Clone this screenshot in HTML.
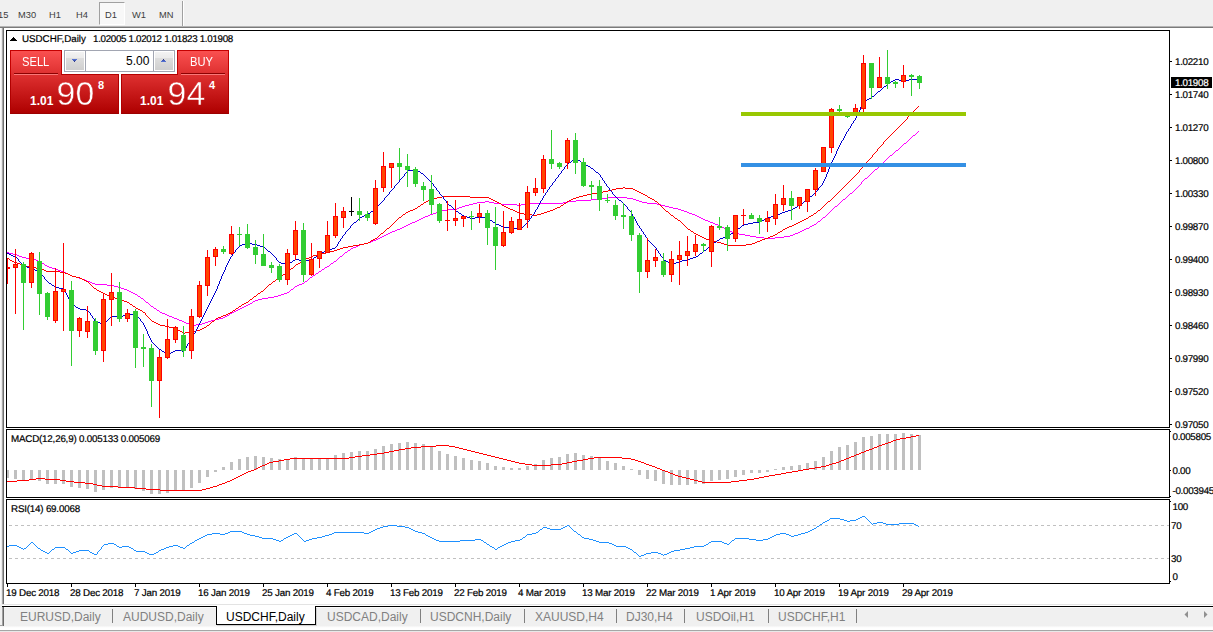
<!DOCTYPE html>
<html><head><meta charset="utf-8"><title>USDCHF,Daily</title>
<style>
html,body{margin:0;padding:0;overflow:hidden;}
body{width:1213px;height:632px;overflow:hidden;background:#f0f0f0;font-family:"Liberation Sans",sans-serif;position:relative;}
.t{position:absolute;white-space:nowrap;color:#000;}
.ax{font-size:9.8px;line-height:10px;letter-spacing:-0.3px;-webkit-text-stroke:0.2px #000;text-rendering:geometricPrecision;margin-top:1px;}
.dt{font-size:9.8px;line-height:10px;letter-spacing:-0.2px;-webkit-text-stroke:0.2px #000;text-rendering:geometricPrecision;margin-top:1px;}
.hd{font-size:9.8px;line-height:10px;letter-spacing:-0.2px;-webkit-text-stroke:0.2px #000;text-rendering:geometricPrecision;margin-top:1px;}
.tb{font-size:9.3px;line-height:10px;color:#3c3c3c;}
.tab{font-size:12px;line-height:14px;color:#808080;}
.tab.act{color:#000;}
.sep{position:absolute;top:609px;width:1px;height:14px;background:#808080;}
#white{position:absolute;left:4px;top:28px;width:1209px;height:577px;background:#fff;}
#chart{position:absolute;left:0;top:0;}
.rp{position:absolute;box-sizing:border-box;border:1px solid #b00000;}
.big{font-size:33px;line-height:33px;color:#fff;}
</style></head><body>
<!-- toolbar -->
<div style="position:absolute;left:0;top:26px;width:1213px;height:1px;background:#b4b4b4"></div>
<div style="position:absolute;left:0;top:27px;width:1213px;height:1px;background:#7a7a7a"></div>
<div style="position:absolute;left:99px;top:2px;width:24px;height:21px;background:#f8f8f8;border-left:1px solid #a0a0a0;border-top:1px solid #a0a0a0;border-right:1px solid #fff;border-bottom:1px solid #fff;"></div>
<div style="position:absolute;left:182px;top:1px;width:1px;height:25px;background:#a0a0a0"></div>
<div style="position:absolute;left:183px;top:1px;width:1px;height:25px;background:#fff"></div>
<span class="t tb" style="left:-2px;top:10px">15</span>
<span class="t tb" style="left:18px;top:10px">M30</span>
<span class="t tb" style="left:49px;top:10px">H1</span>
<span class="t tb" style="left:76px;top:10px">H4</span>
<span class="t tb" style="left:105px;top:10px">D1</span>
<span class="t tb" style="left:132px;top:10px">W1</span>
<span class="t tb" style="left:159px;top:10px">MN</span>
<!-- left edge -->
<div style="position:absolute;left:0px;top:28px;width:1px;height:576px;background:#fafafa"></div>
<div style="position:absolute;left:1px;top:28px;width:1px;height:576px;background:#ececec"></div>
<div style="position:absolute;left:2px;top:28px;width:1px;height:576px;background:#a8a8a8"></div>
<div style="position:absolute;left:3px;top:28px;width:1px;height:576px;background:#707070"></div>
<div id="white"></div>
<svg id="chart" width="1213" height="632" viewBox="0 0 1213 632" shape-rendering="crispEdges">
<defs><clipPath id="cpMain"><rect x="7" y="31" width="1162" height="396"/></clipPath>
<clipPath id="cpAll"><rect x="7" y="31" width="1162" height="552"/></clipPath></defs>
<g clip-path="url(#cpMain)">
<path d="M7 252h2v1h-2zM9 253h4v1h-4zM13 254h4v1h-4zM17 255h2v1h-2zM19 256h3v1h-3zM22 257h4v1h-4zM26 258h7v1h-7zM33 259h3v1h-3zM36 260h2v1h-2zM38 261h2v1h-2zM40 262h2v1h-2zM42 263h2v1h-2zM44 264h1v1h-1zM45 265h2v1h-2zM47 266h2v1h-2zM49 267h3v1h-3zM52 268h4v1h-4zM56 269h2v1h-2zM58 270h3v1h-3zM61 271h2v1h-2zM63 272h3v1h-3zM66 273h2v1h-2zM68 274h2v1h-2zM70 275h2v1h-2zM72 276h4v1h-4zM76 277h3v1h-3zM79 278h3v1h-3zM82 279h3v1h-3zM85 280h2v1h-2zM87 281h3v1h-3zM90 282h2v1h-2zM92 283h3v1h-3zM95 284h12v1h-12zM107 285h7v1h-7zM114 286h4v1h-4zM118 287h3v1h-3zM121 288h3v1h-3zM124 289h3v1h-3zM127 290h2v1h-2zM129 291h2v1h-2zM131 292h2v1h-2zM133 293h2v1h-2zM135 294h2v1h-2zM137 295h1v1h-1zM138 296h2v1h-2zM140 297h1v1h-1zM141 298h2v1h-2zM143 299h1v1h-1zM144 300h1v1h-1zM145 301h1v1h-1zM146 302h2v1h-2zM148 303h1v1h-1zM149 304h1v1h-1zM150 305h1v1h-1zM151 306h2v1h-2zM153 307h1v1h-1zM154 308h2v1h-2zM156 309h1v1h-1zM157 310h2v1h-2zM159 311h1v1h-1zM160 312h2v1h-2zM162 313h3v1h-3zM165 314h2v1h-2zM167 315h2v1h-2zM169 316h3v1h-3zM172 317h2v1h-2zM174 318h3v1h-3zM177 319h2v1h-2zM179 320h3v1h-3zM182 321h2v1h-2zM184 322h2v1h-2zM186 323h3v1h-3zM189 324h2v1h-2zM191 325h5v1h-5zM196 324h6v1h-6zM202 323h3v1h-3zM205 322h3v1h-3zM208 321h3v1h-3zM211 320h4v1h-4zM215 319h4v1h-4zM219 318h4v1h-4zM223 317h2v1h-2zM225 316h2v1h-2zM227 315h2v1h-2zM229 314h1v1h-1zM230 313h2v1h-2zM232 312h2v1h-2zM234 311h2v1h-2zM236 310h2v1h-2zM238 309h2v1h-2zM240 308h2v1h-2zM242 307h2v1h-2zM244 306h2v1h-2zM246 305h2v1h-2zM248 304h2v1h-2zM250 303h2v1h-2zM252 302h1v1h-1zM253 301h2v1h-2zM255 300h3v1h-3zM258 299h4v1h-4zM262 298h6v1h-6zM268 297h6v1h-6zM274 296h4v1h-4zM278 295h3v1h-3zM281 294h3v1h-3zM284 293h3v1h-3zM287 292h2v1h-2zM289 291h1v1h-1zM290 290h1v1h-1zM291 289h2v1h-2zM293 288h1v1h-1zM294 287h1v1h-1zM295 286h2v1h-2zM297 285h2v1h-2zM299 284h3v1h-3zM302 283h2v1h-2zM304 282h1v1h-1zM305 281h2v1h-2zM307 280h1v1h-1zM308 279h1v1h-1zM309 278h1v1h-1zM310 277h2v1h-2zM312 276h1v1h-1zM313 275h2v1h-2zM315 274h1v1h-1zM316 273h2v1h-2zM318 272h1v1h-1zM319 271h2v1h-2zM321 270h1v1h-1zM322 269h2v1h-2zM324 268h1v1h-1zM325 267h2v1h-2zM327 266h2v1h-2zM329 265h1v1h-1zM330 264h1v1h-1zM331 263h2v1h-2zM333 262h1v1h-1zM334 261h2v1h-2zM336 260h1v1h-1zM337 259h1v1h-1zM338 258h1v1h-1zM339 257h1v1h-1zM340 256h2v1h-2zM342 255h1v1h-1zM343 254h1v1h-1zM344 253h1v1h-1zM345 252h2v1h-2zM347 251h1v1h-1zM348 250h2v1h-2zM350 249h1v1h-1zM351 248h2v1h-2zM353 247h3v1h-3zM356 246h2v1h-2zM358 245h2v1h-2zM360 244h4v1h-4zM364 243h4v1h-4zM368 242h3v1h-3zM371 241h2v1h-2zM373 240h3v1h-3zM376 239h2v1h-2zM378 238h2v1h-2zM380 237h2v1h-2zM382 236h2v1h-2zM384 235h2v1h-2zM386 234h2v1h-2zM388 233h2v1h-2zM390 232h2v1h-2zM392 231h3v1h-3zM395 230h2v1h-2zM397 229h3v1h-3zM400 228h2v1h-2zM402 227h2v1h-2zM404 226h2v1h-2zM406 225h2v1h-2zM408 224h2v1h-2zM410 223h2v1h-2zM412 222h3v1h-3zM415 221h2v1h-2zM417 220h2v1h-2zM419 219h2v1h-2zM421 218h2v1h-2zM423 217h2v1h-2zM425 216h3v1h-3zM428 215h2v1h-2zM430 214h3v1h-3zM433 213h3v1h-3zM436 212h3v1h-3zM439 211h3v1h-3zM442 210h5v1h-5zM447 209h10v1h-10zM457 208h2v1h-2zM459 207h3v1h-3zM462 206h3v1h-3zM465 205h4v1h-4zM469 204h4v1h-4zM473 203h4v1h-4zM477 202h8v1h-8zM485 201h4v1h-4zM489 202h5v1h-5zM494 203h7v1h-7zM501 204h16v1h-16zM517 205h4v1h-4zM521 204h6v1h-6zM527 203h36v1h-36zM563 202h5v1h-5zM568 201h8v1h-8zM576 200h15v1h-15zM591 199h8v1h-8zM599 198h8v1h-8zM607 197h20v1h-20zM627 198h6v1h-6zM633 199h3v1h-3zM636 200h3v1h-3zM639 201h3v1h-3zM642 202h5v1h-5zM647 203h10v1h-10zM657 204h4v1h-4zM661 205h4v1h-4zM665 206h4v1h-4zM669 207h4v1h-4zM673 208h5v1h-5zM678 209h3v1h-3zM681 210h3v1h-3zM684 211h3v1h-3zM687 212h2v1h-2zM689 213h3v1h-3zM692 214h3v1h-3zM695 215h2v1h-2zM697 216h2v1h-2zM699 217h2v1h-2zM701 218h2v1h-2zM703 219h2v1h-2zM705 220h3v1h-3zM708 221h2v1h-2zM710 222h3v1h-3zM713 223h2v1h-2zM715 224h3v1h-3zM718 225h2v1h-2zM720 226h2v1h-2zM722 227h2v1h-2zM724 228h1v1h-1zM725 229h2v1h-2zM727 230h2v1h-2zM729 231h3v1h-3zM732 232h3v1h-3zM735 233h4v1h-4zM739 234h6v1h-6zM745 235h5v1h-5zM750 236h6v1h-6zM756 237h8v1h-8zM764 238h11v1h-11zM775 237h9v1h-9zM784 236h6v1h-6zM790 235h3v1h-3zM793 234h2v1h-2zM795 233h3v1h-3zM798 232h2v1h-2zM800 231h2v1h-2zM802 230h2v1h-2zM804 229h2v1h-2zM806 228h3v1h-3zM809 227h1v1h-1zM810 226h2v1h-2zM812 225h2v1h-2zM814 224h2v1h-2zM816 223h1v1h-1zM817 222h1v1h-1zM818 221h2v1h-2zM820 220h1v1h-1zM821 219h1v1h-1zM822 218h1v1h-1zM823 217h2v1h-2zM825 216h1v1h-1zM826 215h1v1h-1zM827 214h1v1h-1zM828 213h1v1h-1zM829 212h1v1h-1zM830 211h1v1h-1zM831 210h1v1h-1zM832 209h1v1h-1zM833 208h1v1h-1zM834 207h1v1h-1zM835 206h2v1h-2zM837 205h1v1h-1zM838 204h1v1h-1zM839 203h1v1h-1zM840 202h1v1h-1zM841 201h1v1h-1zM842 200h1v1h-1zM843 199h2v1h-2zM845 198h1v1h-1zM846 197h1v1h-1zM847 196h1v1h-1zM848 195h1v1h-1zM849 194h1v1h-1zM850 193h2v1h-2zM852 192h1v1h-1zM853 191h1v1h-1zM854 190h1v1h-1zM855 189h1v1h-1zM856 188h1v1h-1zM857 187h1v1h-1zM858 186h1v1h-1zM859 185h1v1h-1zM860 184h1v1h-1zM861 182h1v2h-1zM862 181h1v1h-1zM863 180h1v1h-1zM864 179h1v1h-1zM865 178h2v1h-2zM867 177h1v1h-1zM868 176h1v1h-1zM869 175h1v1h-1zM870 174h1v1h-1zM871 173h1v1h-1zM872 172h1v1h-1zM873 171h1v1h-1zM874 170h1v1h-1zM875 169h2v1h-2zM877 168h1v1h-1zM878 167h1v1h-1zM879 166h1v1h-1zM880 165h1v1h-1zM881 164h1v1h-1zM882 163h1v1h-1zM883 162h1v1h-1zM884 161h1v1h-1zM885 160h1v1h-1zM886 159h1v1h-1zM887 158h1v1h-1zM888 157h1v1h-1zM889 156h1v1h-1zM890 155h2v1h-2zM892 154h1v1h-1zM893 153h1v1h-1zM894 152h1v1h-1zM895 151h1v1h-1zM896 150h2v1h-2zM898 149h1v1h-1zM899 148h1v1h-1zM900 147h1v1h-1zM901 146h1v1h-1zM902 145h1v1h-1zM903 144h1v1h-1zM904 143h2v1h-2zM906 142h1v1h-1zM907 141h1v1h-1zM908 140h1v1h-1zM909 139h1v1h-1zM910 138h1v1h-1zM911 137h1v1h-1zM912 136h1v1h-1zM913 135h2v1h-2zM915 134h1v1h-1zM916 133h1v1h-1zM917 132h1v1h-1zM918 131h1v1h-1z" fill="#ff00ff"/>
<path d="M7 258h2v1h-2zM9 259h1v1h-1zM10 260h2v1h-2zM12 261h2v1h-2zM14 262h3v1h-3zM17 263h3v1h-3zM20 264h3v1h-3zM23 265h3v1h-3zM26 266h4v1h-4zM30 267h6v1h-6zM36 268h5v1h-5zM41 269h3v1h-3zM44 270h2v1h-2zM46 271h14v1h-14zM60 272h5v1h-5zM65 273h3v1h-3zM68 274h2v1h-2zM70 275h2v1h-2zM72 276h4v1h-4zM76 277h4v1h-4zM80 278h2v1h-2zM82 279h2v1h-2zM84 280h2v1h-2zM86 281h2v1h-2zM88 282h1v1h-1zM89 283h1v1h-1zM90 284h1v1h-1zM91 285h1v1h-1zM92 286h1v1h-1zM93 287h1v1h-1zM94 288h2v1h-2zM96 289h1v1h-1zM97 290h2v1h-2zM99 291h2v1h-2zM101 292h2v1h-2zM103 293h2v1h-2zM105 294h2v1h-2zM107 295h3v1h-3zM110 296h2v1h-2zM112 297h3v1h-3zM115 298h4v1h-4zM119 299h3v1h-3zM122 300h2v1h-2zM124 301h3v1h-3zM127 302h2v1h-2zM129 303h1v1h-1zM130 304h2v1h-2zM132 305h1v1h-1zM133 306h2v1h-2zM135 307h1v1h-1zM136 308h2v1h-2zM138 309h2v1h-2zM140 310h2v1h-2zM142 311h1v1h-1zM143 312h2v1h-2zM145 313h1v2h-1zM146 315h1v1h-1zM147 316h1v1h-1zM148 317h1v1h-1zM149 318h1v1h-1zM150 319h1v1h-1zM151 320h1v1h-1zM152 321h2v1h-2zM154 322h2v1h-2zM156 323h2v1h-2zM158 324h2v1h-2zM160 325h5v1h-5zM165 326h4v1h-4zM169 327h4v1h-4zM173 328h3v1h-3zM176 329h2v1h-2zM178 330h2v1h-2zM180 331h2v1h-2zM182 332h2v1h-2zM184 333h1v1h-1zM185 332h8v1h-8zM193 331h3v1h-3zM196 330h4v1h-4zM200 329h2v1h-2zM202 328h2v1h-2zM204 327h2v1h-2zM206 326h1v1h-1zM207 325h2v1h-2zM209 324h1v1h-1zM210 323h1v1h-1zM211 322h1v1h-1zM212 321h2v1h-2zM214 320h1v1h-1zM215 319h1v1h-1zM216 318h2v1h-2zM218 317h3v1h-3zM221 316h2v1h-2zM223 315h3v1h-3zM226 314h2v1h-2zM228 313h2v1h-2zM230 312h2v1h-2zM232 311h1v1h-1zM233 310h2v1h-2zM235 309h1v1h-1zM236 308h2v1h-2zM238 307h1v1h-1zM239 306h2v1h-2zM241 305h1v1h-1zM242 304h2v1h-2zM244 303h2v1h-2zM246 302h2v1h-2zM248 301h1v1h-1zM249 300h1v1h-1zM250 299h2v1h-2zM252 298h1v1h-1zM253 297h1v1h-1zM254 296h2v1h-2zM256 295h1v1h-1zM257 294h1v1h-1zM258 293h2v1h-2zM260 292h1v1h-1zM261 291h2v1h-2zM263 290h1v1h-1zM264 289h1v1h-1zM265 288h1v1h-1zM266 287h1v1h-1zM267 286h1v1h-1zM268 285h1v1h-1zM269 284h2v1h-2zM271 283h1v1h-1zM272 282h1v1h-1zM273 281h2v1h-2zM275 280h1v1h-1zM276 279h2v1h-2zM278 278h1v1h-1zM279 277h2v1h-2zM281 276h1v1h-1zM282 275h1v1h-1zM283 274h2v1h-2zM285 273h1v1h-1zM286 272h2v1h-2zM288 271h1v1h-1zM289 270h1v1h-1zM290 269h1v1h-1zM291 268h2v1h-2zM293 267h1v1h-1zM294 266h1v1h-1zM295 265h1v1h-1zM296 264h2v1h-2zM298 263h2v1h-2zM300 262h1v1h-1zM301 261h2v1h-2zM303 260h1v1h-1zM304 259h2v1h-2zM306 258h3v1h-3zM309 257h2v1h-2zM311 256h2v1h-2zM313 255h4v1h-4zM317 254h4v1h-4zM321 253h5v1h-5zM326 252h4v1h-4zM330 251h4v1h-4zM334 250h3v1h-3zM337 249h3v1h-3zM340 248h3v1h-3zM343 247h5v1h-5zM348 246h5v1h-5zM353 245h6v1h-6zM359 244h5v1h-5zM364 243h4v1h-4zM368 242h2v1h-2zM370 241h1v1h-1zM371 240h2v1h-2zM373 239h2v1h-2zM375 238h2v1h-2zM377 237h1v1h-1zM378 236h1v1h-1zM379 235h1v1h-1zM380 234h1v1h-1zM381 233h2v1h-2zM383 232h1v1h-1zM384 231h1v1h-1zM385 230h1v1h-1zM386 229h1v1h-1zM387 228h2v1h-2zM389 227h1v1h-1zM390 226h1v1h-1zM391 225h1v1h-1zM392 224h1v1h-1zM393 223h1v1h-1zM394 222h1v1h-1zM395 221h1v1h-1zM396 220h1v1h-1zM397 219h1v1h-1zM398 218h1v1h-1zM399 217h2v1h-2zM401 216h1v1h-1zM402 215h1v1h-1zM403 214h2v1h-2zM405 213h1v1h-1zM406 212h2v1h-2zM408 211h2v1h-2zM410 210h3v1h-3zM413 209h2v1h-2zM415 208h2v1h-2zM417 207h1v1h-1zM418 206h2v1h-2zM420 205h1v1h-1zM421 204h2v1h-2zM423 203h1v1h-1zM424 202h2v1h-2zM426 201h2v1h-2zM428 200h3v1h-3zM431 199h2v1h-2zM433 198h4v1h-4zM437 197h5v1h-5zM442 196h28v1h-28zM470 197h19v1h-19zM489 198h2v1h-2zM491 199h2v1h-2zM493 200h2v1h-2zM495 201h2v1h-2zM497 202h2v1h-2zM499 203h2v1h-2zM501 204h1v1h-1zM502 205h2v1h-2zM504 206h2v1h-2zM506 207h2v1h-2zM508 208h2v1h-2zM510 209h3v1h-3zM513 210h2v1h-2zM515 211h2v1h-2zM517 212h2v1h-2zM519 213h5v1h-5zM524 214h8v1h-8zM532 215h5v1h-5zM537 214h4v1h-4zM541 213h3v1h-3zM544 212h3v1h-3zM547 211h3v1h-3zM550 210h3v1h-3zM553 209h2v1h-2zM555 208h2v1h-2zM557 207h3v1h-3zM560 206h1v1h-1zM561 205h2v1h-2zM563 204h1v1h-1zM564 203h2v1h-2zM566 202h1v1h-1zM567 201h2v1h-2zM569 200h2v1h-2zM571 199h2v1h-2zM573 198h3v1h-3zM576 197h3v1h-3zM579 196h4v1h-4zM583 195h4v1h-4zM587 194h4v1h-4zM591 193h7v1h-7zM598 192h5v1h-5zM603 191h5v1h-5zM608 190h4v1h-4zM612 189h4v1h-4zM616 188h7v1h-7zM623 187h2v1h-2zM625 188h8v1h-8zM633 189h2v1h-2zM635 190h2v1h-2zM637 191h2v1h-2zM639 192h2v1h-2zM641 193h2v1h-2zM643 194h2v1h-2zM645 195h2v1h-2zM647 196h1v1h-1zM648 197h2v1h-2zM650 198h2v1h-2zM652 199h2v1h-2zM654 200h1v1h-1zM655 201h2v1h-2zM657 202h1v1h-1zM658 203h1v1h-1zM659 204h1v1h-1zM660 205h1v1h-1zM661 206h1v1h-1zM662 207h1v1h-1zM663 208h1v1h-1zM664 209h1v1h-1zM665 210h1v1h-1zM666 211h2v1h-2zM668 212h1v1h-1zM669 213h1v1h-1zM670 214h1v1h-1zM671 215h2v1h-2zM673 216h1v1h-1zM674 217h1v1h-1zM675 218h2v1h-2zM677 219h1v1h-1zM678 220h2v1h-2zM680 221h1v1h-1zM681 222h1v1h-1zM682 223h1v1h-1zM683 224h1v1h-1zM684 225h1v1h-1zM685 226h1v1h-1zM686 227h1v1h-1zM687 228h1v1h-1zM688 229h2v1h-2zM690 230h1v1h-1zM691 231h2v1h-2zM693 232h1v1h-1zM694 233h2v1h-2zM696 234h2v1h-2zM698 235h2v1h-2zM700 236h2v1h-2zM702 237h2v1h-2zM704 238h2v1h-2zM706 239h3v1h-3zM709 240h3v1h-3zM712 241h5v1h-5zM717 242h4v1h-4zM721 243h3v1h-3zM724 244h3v1h-3zM727 245h19v1h-19zM746 244h6v1h-6zM752 243h3v1h-3zM755 242h2v1h-2zM757 241h3v1h-3zM760 240h2v1h-2zM762 239h3v1h-3zM765 238h3v1h-3zM768 237h2v1h-2zM770 236h3v1h-3zM773 235h2v1h-2zM775 234h2v1h-2zM777 233h1v1h-1zM778 232h2v1h-2zM780 231h2v1h-2zM782 230h1v1h-1zM783 229h2v1h-2zM785 228h2v1h-2zM787 227h2v1h-2zM789 226h3v1h-3zM792 225h2v1h-2zM794 224h2v1h-2zM796 223h2v1h-2zM798 222h2v1h-2zM800 221h2v1h-2zM802 220h2v1h-2zM804 219h2v1h-2zM806 218h2v1h-2zM808 217h1v1h-1zM809 216h2v1h-2zM811 215h2v1h-2zM813 214h1v1h-1zM814 213h2v1h-2zM816 212h1v1h-1zM817 211h1v1h-1zM818 210h2v1h-2zM820 209h1v1h-1zM821 208h1v1h-1zM822 207h1v1h-1zM823 206h1v1h-1zM824 205h1v1h-1zM825 204h1v1h-1zM826 203h1v1h-1zM827 202h1v1h-1zM828 201h2v1h-2zM830 200h1v1h-1zM831 199h1v1h-1zM832 198h1v1h-1zM833 197h1v1h-1zM834 196h1v1h-1zM835 195h1v1h-1zM836 194h1v1h-1zM837 193h1v1h-1zM838 192h1v1h-1zM839 191h1v1h-1zM840 190h1v1h-1zM841 189h1v1h-1zM842 188h1v1h-1zM843 187h1v1h-1zM844 186h1v1h-1zM845 185h1v1h-1zM846 184h1v1h-1zM847 183h1v1h-1zM848 182h1v1h-1zM849 181h1v1h-1zM850 180h1v1h-1zM851 179h1v1h-1zM852 178h1v1h-1zM853 177h1v1h-1zM854 176h1v1h-1zM855 175h1v1h-1zM856 174h1v1h-1zM857 173h1v1h-1zM858 172h1v1h-1zM859 170h1v2h-1zM860 169h1v1h-1zM861 168h1v1h-1zM862 167h1v1h-1zM863 165h1v2h-1zM864 164h1v1h-1zM865 163h1v1h-1zM866 162h1v1h-1zM867 161h1v1h-1zM868 160h1v1h-1zM869 159h1v1h-1zM870 158h1v1h-1zM871 157h1v1h-1zM872 155h1v2h-1zM873 154h1v1h-1zM874 153h1v1h-1zM875 152h1v1h-1zM876 151h1v1h-1zM877 149h1v2h-1zM878 148h1v1h-1zM879 147h1v1h-1zM880 146h1v1h-1zM881 145h1v1h-1zM882 144h1v1h-1zM883 142h1v2h-1zM884 141h1v1h-1zM885 140h1v1h-1zM886 139h1v1h-1zM887 138h1v1h-1zM888 137h1v1h-1zM889 136h1v1h-1zM890 135h1v1h-1zM891 134h1v1h-1zM892 133h1v1h-1zM893 132h1v1h-1zM894 131h1v1h-1zM895 130h1v1h-1zM896 129h1v1h-1zM897 128h1v1h-1zM898 127h1v1h-1zM899 126h1v1h-1zM900 125h1v1h-1zM901 124h1v1h-1zM902 123h1v1h-1zM903 122h1v1h-1zM904 121h1v1h-1zM905 120h1v1h-1zM906 119h1v1h-1zM907 117h1v2h-1zM908 116h1v1h-1zM909 115h1v1h-1zM910 114h1v1h-1zM911 113h1v1h-1zM912 112h1v1h-1zM913 111h1v1h-1zM914 110h1v1h-1zM915 109h1v1h-1zM916 108h1v1h-1zM917 107h1v1h-1zM918 106h1v1h-1z" fill="#ff0000"/>
<path d="M7 253h2v1h-2zM9 254h2v1h-2zM11 255h2v1h-2zM13 256h2v1h-2zM15 257h2v1h-2zM17 258h1v1h-1zM18 259h1v2h-1zM19 261h1v1h-1zM20 262h1v1h-1zM21 263h1v1h-1zM22 264h1v1h-1zM23 265h2v1h-2zM25 266h2v1h-2zM27 267h3v1h-3zM30 268h3v1h-3zM33 269h2v1h-2zM35 270h2v1h-2zM37 271h2v1h-2zM39 272h1v1h-1zM40 272h1v2h-1zM41 274h1v1h-1zM42 275h1v1h-1zM43 276h1v1h-1zM44 277h1v2h-1zM45 279h1v1h-1zM46 280h1v1h-1zM47 281h1v1h-1zM48 282h1v1h-1zM49 283h2v1h-2zM51 284h1v1h-1zM52 285h2v1h-2zM54 286h1v1h-1zM55 287h4v1h-4zM59 288h5v1h-5zM64 289h1v2h-1zM65 291h1v2h-1zM66 293h1v2h-1zM67 295h1v2h-1zM68 297h1v2h-1zM69 299h1v2h-1zM70 301h1v2h-1zM71 303h1v1h-1zM72 304h1v1h-1zM73 305h2v1h-2zM75 306h1v1h-1zM76 307h2v1h-2zM78 308h2v1h-2zM80 309h6v1h-6zM86 310h2v1h-2zM88 311h1v1h-1zM89 312h1v1h-1zM90 313h1v2h-1zM91 315h1v1h-1zM92 316h1v2h-1zM93 318h1v1h-1zM94 319h1v2h-1zM95 321h1v1h-1zM96 322h4v1h-4zM100 323h5v1h-5zM105 322h1v1h-1zM106 321h1v1h-1zM107 320h1v1h-1zM108 319h1v1h-1zM109 318h1v1h-1zM110 317h1v1h-1zM111 316h12v1h-12zM123 315h5v1h-5zM128 314h8v1h-8zM136 314h1v2h-1zM137 316h1v1h-1zM138 317h1v1h-1zM139 318h1v1h-1zM140 319h1v2h-1zM141 321h1v1h-1zM142 322h1v1h-1zM143 323h1v2h-1zM144 325h1v2h-1zM145 327h1v2h-1zM146 329h1v2h-1zM147 331h1v3h-1zM148 334h1v2h-1zM149 336h1v2h-1zM150 338h1v2h-1zM151 340h1v2h-1zM152 342h1v1h-1zM153 343h1v1h-1zM154 344h1v1h-1zM155 345h1v1h-1zM156 346h1v1h-1zM157 347h1v1h-1zM158 348h1v1h-1zM159 349h2v1h-2zM161 350h1v1h-1zM162 351h2v1h-2zM164 352h1v1h-1zM165 353h2v1h-2zM167 354h2v1h-2zM169 353h2v1h-2zM171 352h2v1h-2zM173 351h2v1h-2zM175 350h7v1h-7zM182 351h2v1h-2zM184 349h1v2h-1zM185 348h1v1h-1zM186 346h1v2h-1zM187 344h1v2h-1zM188 343h1v1h-1zM189 341h1v2h-1zM190 340h1v1h-1zM191 338h1v2h-1zM192 336h1v2h-1zM193 334h1v2h-1zM194 333h1v1h-1zM195 331h1v2h-1zM196 329h1v2h-1zM197 327h1v2h-1zM198 325h1v2h-1zM199 323h1v2h-1zM200 321h1v2h-1zM201 319h1v2h-1zM202 317h1v2h-1zM203 315h1v2h-1zM204 313h1v2h-1zM205 311h1v2h-1zM206 309h1v2h-1zM207 307h1v2h-1zM208 305h1v2h-1zM209 303h1v2h-1zM210 301h1v2h-1zM211 299h1v2h-1zM212 297h1v2h-1zM213 295h1v2h-1zM214 293h1v2h-1zM215 291h1v2h-1zM216 289h1v2h-1zM217 286h1v3h-1zM218 284h1v2h-1zM219 281h1v3h-1zM220 279h1v2h-1zM221 276h1v3h-1zM222 274h1v2h-1zM223 272h1v2h-1zM224 270h1v2h-1zM225 267h1v3h-1zM226 265h1v2h-1zM227 263h1v2h-1zM228 261h1v2h-1zM229 259h1v2h-1zM230 257h1v2h-1zM231 256h1v1h-1zM232 254h1v2h-1zM233 253h1v1h-1zM234 252h1v1h-1zM235 250h1v2h-1zM236 249h1v1h-1zM237 248h1v1h-1zM238 247h1v1h-1zM239 246h1v1h-1zM240 245h2v1h-2zM242 244h4v1h-4zM246 243h6v1h-6zM252 244h5v1h-5zM257 245h3v1h-3zM260 246h3v1h-3zM263 247h2v1h-2zM265 248h1v1h-1zM266 249h1v1h-1zM267 250h1v1h-1zM268 251h2v1h-2zM270 252h1v1h-1zM271 253h1v1h-1zM272 254h1v1h-1zM273 255h1v1h-1zM274 256h1v1h-1zM275 257h1v1h-1zM276 258h1v2h-1zM277 260h1v1h-1zM278 261h1v1h-1zM279 262h2v1h-2zM281 263h6v1h-6zM287 264h1v1h-1zM288 263h2v1h-2zM290 262h2v1h-2zM292 261h1v1h-1zM293 260h2v1h-2zM295 259h4v1h-4zM299 260h5v1h-5zM304 261h1v1h-1zM305 260h5v1h-5zM310 259h3v1h-3zM313 258h1v1h-1zM314 257h2v1h-2zM316 256h1v1h-1zM317 255h1v1h-1zM318 254h2v1h-2zM320 253h2v1h-2zM322 252h2v1h-2zM324 251h2v1h-2zM326 250h3v1h-3zM329 249h3v1h-3zM332 248h3v1h-3zM335 247h1v1h-1zM336 246h1v1h-1zM337 244h1v2h-1zM338 242h1v2h-1zM339 241h1v1h-1zM340 239h1v2h-1zM341 238h1v1h-1zM342 236h1v2h-1zM343 235h1v1h-1zM344 234h1v1h-1zM345 232h1v2h-1zM346 231h1v1h-1zM347 230h1v1h-1zM348 229h1v1h-1zM349 228h1v1h-1zM350 226h1v2h-1zM351 225h1v1h-1zM352 224h1v1h-1zM353 223h1v1h-1zM354 222h2v1h-2zM356 221h1v1h-1zM357 220h1v1h-1zM358 219h1v1h-1zM359 218h1v1h-1zM360 217h2v1h-2zM362 216h2v1h-2zM364 215h2v1h-2zM366 214h2v1h-2zM368 213h2v1h-2zM370 212h1v1h-1zM371 211h2v1h-2zM373 210h1v1h-1zM374 209h2v1h-2zM376 208h1v1h-1zM377 206h1v2h-1zM378 205h1v1h-1zM379 204h1v1h-1zM380 203h1v1h-1zM381 202h1v1h-1zM382 201h1v1h-1zM383 200h1v1h-1zM384 198h1v2h-1zM385 197h1v1h-1zM386 196h1v1h-1zM387 195h1v1h-1zM388 194h1v1h-1zM389 192h1v2h-1zM390 191h1v1h-1zM391 190h1v1h-1zM392 189h1v1h-1zM393 188h1v1h-1zM394 186h1v2h-1zM395 185h1v1h-1zM396 184h1v1h-1zM397 183h1v1h-1zM398 182h1v1h-1zM399 180h1v2h-1zM400 179h1v1h-1zM401 178h1v1h-1zM402 177h1v1h-1zM403 176h1v1h-1zM404 174h1v2h-1zM405 173h1v1h-1zM406 172h1v1h-1zM407 171h1v1h-1zM408 170h7v1h-7zM415 169h1v1h-1zM416 170h2v1h-2zM418 171h2v1h-2zM420 172h1v1h-1zM421 173h2v1h-2zM423 174h1v1h-1zM424 175h1v1h-1zM425 176h1v1h-1zM426 177h1v1h-1zM427 178h1v1h-1zM428 179h1v1h-1zM429 180h1v1h-1zM430 181h1v1h-1zM431 182h1v1h-1zM432 183h1v1h-1zM433 184h1v2h-1zM434 186h1v1h-1zM435 187h1v1h-1zM436 188h1v2h-1zM437 190h1v1h-1zM438 191h1v1h-1zM439 192h1v2h-1zM440 194h1v1h-1zM441 195h1v1h-1zM442 196h1v1h-1zM443 197h1v2h-1zM444 199h1v1h-1zM445 200h1v1h-1zM446 201h1v2h-1zM447 203h1v1h-1zM448 204h1v1h-1zM449 205h2v1h-2zM451 206h1v1h-1zM452 207h1v1h-1zM453 208h1v1h-1zM454 209h1v1h-1zM455 210h1v1h-1zM456 211h2v1h-2zM458 212h1v1h-1zM459 213h2v1h-2zM461 214h1v1h-1zM462 215h2v1h-2zM464 216h3v1h-3zM467 217h3v1h-3zM470 218h5v1h-5zM475 217h10v1h-10zM485 218h4v1h-4zM489 219h1v1h-1zM490 220h2v1h-2zM492 221h1v1h-1zM493 222h2v1h-2zM495 223h1v1h-1zM496 224h3v1h-3zM499 225h2v1h-2zM501 226h3v1h-3zM504 227h7v1h-7zM511 228h7v1h-7zM518 229h2v1h-2zM520 228h1v1h-1zM521 227h2v1h-2zM523 226h1v1h-1zM524 225h1v1h-1zM525 224h1v1h-1zM526 223h1v1h-1zM527 222h1v1h-1zM528 221h1v1h-1zM529 219h1v2h-1zM530 218h1v1h-1zM531 216h1v2h-1zM532 215h1v1h-1zM533 214h1v1h-1zM534 212h1v2h-1zM535 210h1v2h-1zM536 209h1v1h-1zM537 207h1v2h-1zM538 205h1v2h-1zM539 203h1v2h-1zM540 201h1v2h-1zM541 200h1v1h-1zM542 198h1v2h-1zM543 196h1v2h-1zM544 195h1v1h-1zM545 193h1v2h-1zM546 192h1v1h-1zM547 190h1v2h-1zM548 189h1v1h-1zM549 187h1v2h-1zM550 186h1v1h-1zM551 185h1v1h-1zM552 183h1v2h-1zM553 182h1v1h-1zM554 181h1v1h-1zM555 179h1v2h-1zM556 178h1v1h-1zM557 177h1v1h-1zM558 175h1v2h-1zM559 174h1v1h-1zM560 173h1v1h-1zM561 171h1v2h-1zM562 170h1v1h-1zM563 169h1v1h-1zM564 167h1v2h-1zM565 166h1v1h-1zM566 165h1v1h-1zM567 164h1v1h-1zM568 163h1v1h-1zM569 162h2v1h-2zM571 161h1v1h-1zM572 160h2v1h-2zM574 159h1v1h-1zM575 158h2v1h-2zM577 159h1v1h-1zM578 160h2v1h-2zM580 161h1v1h-1zM581 162h2v1h-2zM583 163h2v1h-2zM585 164h1v1h-1zM586 165h2v1h-2zM588 166h2v1h-2zM590 167h1v1h-1zM591 168h2v1h-2zM593 169h1v1h-1zM594 170h1v1h-1zM595 171h1v1h-1zM596 172h2v1h-2zM598 173h1v1h-1zM599 174h1v1h-1zM600 175h1v2h-1zM601 177h1v1h-1zM602 178h1v2h-1zM603 180h1v1h-1zM604 181h1v2h-1zM605 183h1v1h-1zM606 184h1v2h-1zM607 186h1v1h-1zM608 187h1v1h-1zM609 188h1v2h-1zM610 190h1v1h-1zM611 191h1v1h-1zM612 192h1v2h-1zM613 194h1v1h-1zM614 195h1v1h-1zM615 196h1v1h-1zM616 197h1v1h-1zM617 198h1v1h-1zM618 199h1v1h-1zM619 200h2v1h-2zM621 201h1v1h-1zM622 202h1v1h-1zM623 203h1v1h-1zM624 204h1v1h-1zM625 205h1v1h-1zM626 206h1v1h-1zM627 207h1v2h-1zM628 209h1v1h-1zM629 210h1v1h-1zM630 211h1v1h-1zM631 212h1v2h-1zM632 214h1v2h-1zM633 216h1v1h-1zM634 217h1v2h-1zM635 219h1v2h-1zM636 221h1v2h-1zM637 223h1v2h-1zM638 225h1v1h-1zM639 226h1v2h-1zM640 228h1v1h-1zM641 229h1v2h-1zM642 231h1v1h-1zM643 232h1v2h-1zM644 234h1v1h-1zM645 235h1v2h-1zM646 237h1v1h-1zM647 238h1v2h-1zM648 240h1v1h-1zM649 241h1v1h-1zM650 242h1v1h-1zM651 243h1v1h-1zM652 244h1v1h-1zM653 245h1v1h-1zM654 246h1v1h-1zM655 247h1v1h-1zM656 248h1v2h-1zM657 250h1v1h-1zM658 251h1v2h-1zM659 253h1v1h-1zM660 254h1v2h-1zM661 256h1v1h-1zM662 257h1v1h-1zM663 258h1v2h-1zM664 260h2v1h-2zM666 261h2v1h-2zM668 262h1v1h-1zM669 263h2v1h-2zM671 264h3v1h-3zM674 263h2v1h-2zM676 262h3v1h-3zM679 261h3v1h-3zM682 260h5v1h-5zM687 259h3v1h-3zM690 258h3v1h-3zM693 257h3v1h-3zM696 256h2v1h-2zM698 255h1v1h-1zM699 254h1v1h-1zM700 253h2v1h-2zM702 252h1v1h-1zM703 251h1v1h-1zM704 250h2v1h-2zM706 249h1v1h-1zM707 248h1v1h-1zM708 247h1v1h-1zM709 246h1v1h-1zM710 245h2v1h-2zM712 244h1v1h-1zM713 243h1v1h-1zM714 242h2v1h-2zM716 241h1v1h-1zM717 240h2v1h-2zM719 239h1v1h-1zM720 238h3v1h-3zM723 237h3v1h-3zM726 236h3v1h-3zM729 235h1v1h-1zM730 234h1v1h-1zM731 233h2v1h-2zM733 232h1v1h-1zM734 231h2v1h-2zM736 230h1v1h-1zM737 229h1v1h-1zM738 228h2v1h-2zM740 227h1v1h-1zM741 226h1v1h-1zM742 225h2v1h-2zM744 224h4v1h-4zM748 223h5v1h-5zM753 222h6v1h-6zM759 221h3v1h-3zM762 220h2v1h-2zM764 219h2v1h-2zM766 218h2v1h-2zM768 217h3v1h-3zM771 216h4v1h-4zM775 215h3v1h-3zM778 214h2v1h-2zM780 213h2v1h-2zM782 212h3v1h-3zM785 211h3v1h-3zM788 210h3v1h-3zM791 209h2v1h-2zM793 208h2v1h-2zM795 207h2v1h-2zM797 206h1v1h-1zM798 205h2v1h-2zM800 204h1v1h-1zM801 203h2v1h-2zM803 202h1v1h-1zM804 201h1v1h-1zM805 200h2v1h-2zM807 199h1v1h-1zM808 198h1v1h-1zM809 197h1v1h-1zM810 196h2v1h-2zM812 195h1v1h-1zM813 194h1v1h-1zM814 193h1v1h-1zM815 192h1v1h-1zM816 191h1v1h-1zM817 190h1v1h-1zM818 188h1v2h-1zM819 187h1v1h-1zM820 186h1v1h-1zM821 185h1v1h-1zM822 183h1v2h-1zM823 181h1v2h-1zM824 179h1v2h-1zM825 177h1v2h-1zM826 174h1v3h-1zM827 172h1v2h-1zM828 169h1v3h-1zM829 167h1v2h-1zM830 165h1v2h-1zM831 162h1v3h-1zM832 160h1v2h-1zM833 158h1v2h-1zM834 156h1v2h-1zM835 154h1v2h-1zM836 151h1v3h-1zM837 149h1v2h-1zM838 147h1v2h-1zM839 145h1v2h-1zM840 143h1v2h-1zM841 141h1v2h-1zM842 140h1v1h-1zM843 138h1v2h-1zM844 136h1v2h-1zM845 134h1v2h-1zM846 132h1v2h-1zM847 131h1v1h-1zM848 129h1v2h-1zM849 128h1v1h-1zM850 126h1v2h-1zM851 124h1v2h-1zM852 123h1v1h-1zM853 121h1v2h-1zM854 120h1v1h-1zM855 118h1v2h-1zM856 116h1v2h-1zM857 114h1v2h-1zM858 112h1v2h-1zM859 110h1v2h-1zM860 107h1v3h-1zM861 105h1v2h-1zM862 103h1v2h-1zM863 102h1v1h-1zM864 101h1v1h-1zM865 100h2v1h-2zM867 99h2v1h-2zM869 98h2v1h-2zM871 97h1v1h-1zM872 96h2v1h-2zM874 95h1v1h-1zM875 94h1v1h-1zM876 93h1v1h-1zM877 92h1v1h-1zM878 91h2v1h-2zM880 90h1v1h-1zM881 89h1v1h-1zM882 88h1v1h-1zM883 87h1v1h-1zM884 86h2v1h-2zM886 85h1v1h-1zM887 84h1v1h-1zM888 83h2v1h-2zM890 82h1v1h-1zM891 81h2v1h-2zM893 80h2v1h-2zM895 79h4v1h-4zM899 80h3v1h-3zM902 81h4v1h-4zM906 80h3v1h-3zM909 79h9v1h-9zM918 80h1v1h-1z" fill="#0000cd"/>
<rect x="7" y="258" width="1" height="26" fill="#ff0000"/>
<rect x="5" y="267" width="5" height="2" fill="#ff0000"/>
<rect x="15" y="249" width="1" height="65" fill="#ff0000"/>
<rect x="13" y="264" width="5" height="4" fill="#ff0000"/>
<rect x="14" y="265" width="3" height="2" fill="#ff4500"/>
<rect x="23" y="262" width="1" height="68" fill="#32cd32"/>
<rect x="21" y="264" width="5" height="19" fill="#32cd32"/>
<rect x="31" y="252" width="1" height="36" fill="#ff0000"/>
<rect x="29" y="253" width="5" height="30" fill="#ff0000"/>
<rect x="30" y="254" width="3" height="28" fill="#ff4500"/>
<rect x="39" y="252" width="1" height="63" fill="#32cd32"/>
<rect x="37" y="261" width="5" height="33" fill="#32cd32"/>
<rect x="47" y="292" width="1" height="28" fill="#32cd32"/>
<rect x="45" y="293" width="5" height="24" fill="#32cd32"/>
<rect x="55" y="268" width="1" height="55" fill="#ff0000"/>
<rect x="53" y="291" width="5" height="30" fill="#ff0000"/>
<rect x="54" y="292" width="3" height="28" fill="#ff4500"/>
<rect x="63" y="243" width="1" height="88" fill="#ff0000"/>
<rect x="61" y="289" width="5" height="3" fill="#ff0000"/>
<rect x="62" y="290" width="3" height="1" fill="#ff4500"/>
<rect x="71" y="281" width="1" height="85" fill="#32cd32"/>
<rect x="69" y="290" width="5" height="41" fill="#32cd32"/>
<rect x="79" y="317" width="1" height="20" fill="#ff0000"/>
<rect x="77" y="318" width="5" height="13" fill="#ff0000"/>
<rect x="78" y="319" width="3" height="11" fill="#ff4500"/>
<rect x="87" y="306" width="1" height="32" fill="#ff0000"/>
<rect x="85" y="321" width="5" height="11" fill="#ff0000"/>
<rect x="86" y="322" width="3" height="9" fill="#ff4500"/>
<rect x="95" y="318" width="1" height="37" fill="#32cd32"/>
<rect x="93" y="321" width="5" height="30" fill="#32cd32"/>
<rect x="103" y="294" width="1" height="68" fill="#ff0000"/>
<rect x="101" y="299" width="5" height="52" fill="#ff0000"/>
<rect x="102" y="300" width="3" height="50" fill="#ff4500"/>
<rect x="111" y="273" width="1" height="53" fill="#ff0000"/>
<rect x="109" y="292" width="5" height="8" fill="#ff0000"/>
<rect x="110" y="293" width="3" height="6" fill="#ff4500"/>
<rect x="119" y="282" width="1" height="40" fill="#32cd32"/>
<rect x="117" y="292" width="5" height="27" fill="#32cd32"/>
<rect x="127" y="309" width="1" height="13" fill="#ff0000"/>
<rect x="125" y="313" width="5" height="6" fill="#ff0000"/>
<rect x="126" y="314" width="3" height="4" fill="#ff4500"/>
<rect x="135" y="309" width="1" height="59" fill="#32cd32"/>
<rect x="133" y="311" width="5" height="37" fill="#32cd32"/>
<rect x="143" y="334" width="1" height="33" fill="#32cd32"/>
<rect x="141" y="347" width="5" height="2" fill="#32cd32"/>
<rect x="151" y="344" width="1" height="63" fill="#32cd32"/>
<rect x="149" y="348" width="5" height="33" fill="#32cd32"/>
<rect x="159" y="350" width="1" height="68" fill="#ff0000"/>
<rect x="157" y="357" width="5" height="24" fill="#ff0000"/>
<rect x="158" y="358" width="3" height="22" fill="#ff4500"/>
<rect x="167" y="319" width="1" height="40" fill="#ff0000"/>
<rect x="165" y="339" width="5" height="19" fill="#ff0000"/>
<rect x="166" y="340" width="3" height="17" fill="#ff4500"/>
<rect x="175" y="326" width="1" height="17" fill="#ff0000"/>
<rect x="173" y="327" width="5" height="13" fill="#ff0000"/>
<rect x="174" y="328" width="3" height="11" fill="#ff4500"/>
<rect x="183" y="326" width="1" height="31" fill="#32cd32"/>
<rect x="181" y="335" width="5" height="16" fill="#32cd32"/>
<rect x="191" y="309" width="1" height="50" fill="#ff0000"/>
<rect x="189" y="316" width="5" height="35" fill="#ff0000"/>
<rect x="190" y="317" width="3" height="33" fill="#ff4500"/>
<rect x="199" y="281" width="1" height="37" fill="#ff0000"/>
<rect x="197" y="285" width="5" height="32" fill="#ff0000"/>
<rect x="198" y="286" width="3" height="30" fill="#ff4500"/>
<rect x="207" y="250" width="1" height="46" fill="#ff0000"/>
<rect x="205" y="257" width="5" height="29" fill="#ff0000"/>
<rect x="206" y="258" width="3" height="27" fill="#ff4500"/>
<rect x="215" y="247" width="1" height="19" fill="#ff0000"/>
<rect x="213" y="249" width="5" height="8" fill="#ff0000"/>
<rect x="214" y="250" width="3" height="6" fill="#ff4500"/>
<rect x="223" y="246" width="1" height="8" fill="#32cd32"/>
<rect x="221" y="249" width="5" height="3" fill="#32cd32"/>
<rect x="231" y="226" width="1" height="29" fill="#ff0000"/>
<rect x="229" y="234" width="5" height="20" fill="#ff0000"/>
<rect x="230" y="235" width="3" height="18" fill="#ff4500"/>
<rect x="239" y="227" width="1" height="19" fill="#32cd32"/>
<rect x="237" y="234" width="5" height="1" fill="#32cd32"/>
<rect x="247" y="224" width="1" height="25" fill="#32cd32"/>
<rect x="245" y="234" width="5" height="14" fill="#32cd32"/>
<rect x="255" y="240" width="1" height="24" fill="#32cd32"/>
<rect x="253" y="247" width="5" height="8" fill="#32cd32"/>
<rect x="263" y="234" width="1" height="32" fill="#32cd32"/>
<rect x="261" y="254" width="5" height="12" fill="#32cd32"/>
<rect x="271" y="262" width="1" height="11" fill="#32cd32"/>
<rect x="269" y="265" width="5" height="3" fill="#32cd32"/>
<rect x="279" y="264" width="1" height="18" fill="#32cd32"/>
<rect x="277" y="266" width="5" height="14" fill="#32cd32"/>
<rect x="287" y="249" width="1" height="36" fill="#ff0000"/>
<rect x="285" y="253" width="5" height="27" fill="#ff0000"/>
<rect x="286" y="254" width="3" height="25" fill="#ff4500"/>
<rect x="295" y="221" width="1" height="39" fill="#ff0000"/>
<rect x="293" y="230" width="5" height="25" fill="#ff0000"/>
<rect x="294" y="231" width="3" height="23" fill="#ff4500"/>
<rect x="303" y="223" width="1" height="59" fill="#32cd32"/>
<rect x="301" y="230" width="5" height="45" fill="#32cd32"/>
<rect x="311" y="243" width="1" height="33" fill="#ff0000"/>
<rect x="309" y="259" width="5" height="16" fill="#ff0000"/>
<rect x="310" y="260" width="3" height="14" fill="#ff4500"/>
<rect x="319" y="251" width="1" height="17" fill="#ff0000"/>
<rect x="317" y="251" width="5" height="8" fill="#ff0000"/>
<rect x="318" y="252" width="3" height="6" fill="#ff4500"/>
<rect x="327" y="221" width="1" height="32" fill="#ff0000"/>
<rect x="325" y="235" width="5" height="18" fill="#ff0000"/>
<rect x="326" y="236" width="3" height="16" fill="#ff4500"/>
<rect x="335" y="203" width="1" height="35" fill="#ff0000"/>
<rect x="333" y="216" width="5" height="20" fill="#ff0000"/>
<rect x="334" y="217" width="3" height="18" fill="#ff4500"/>
<rect x="343" y="207" width="1" height="21" fill="#ff0000"/>
<rect x="341" y="211" width="5" height="7" fill="#ff0000"/>
<rect x="342" y="212" width="3" height="5" fill="#ff4500"/>
<rect x="351" y="197" width="1" height="19" fill="#000"/>
<rect x="349" y="211" width="5" height="1" fill="#000"/>
<rect x="359" y="198" width="1" height="23" fill="#32cd32"/>
<rect x="357" y="211" width="5" height="4" fill="#32cd32"/>
<rect x="367" y="211" width="1" height="10" fill="#32cd32"/>
<rect x="365" y="214" width="5" height="4" fill="#32cd32"/>
<rect x="375" y="180" width="1" height="45" fill="#ff0000"/>
<rect x="373" y="188" width="5" height="36" fill="#ff0000"/>
<rect x="374" y="189" width="3" height="34" fill="#ff4500"/>
<rect x="383" y="152" width="1" height="40" fill="#ff0000"/>
<rect x="381" y="166" width="5" height="22" fill="#ff0000"/>
<rect x="382" y="167" width="3" height="20" fill="#ff4500"/>
<rect x="391" y="163" width="1" height="25" fill="#ff0000"/>
<rect x="389" y="163" width="5" height="5" fill="#ff0000"/>
<rect x="390" y="164" width="3" height="3" fill="#ff4500"/>
<rect x="399" y="148" width="1" height="32" fill="#32cd32"/>
<rect x="397" y="163" width="5" height="4" fill="#32cd32"/>
<rect x="407" y="154" width="1" height="33" fill="#32cd32"/>
<rect x="405" y="166" width="5" height="4" fill="#32cd32"/>
<rect x="415" y="167" width="1" height="20" fill="#32cd32"/>
<rect x="413" y="169" width="5" height="15" fill="#32cd32"/>
<rect x="423" y="182" width="1" height="19" fill="#32cd32"/>
<rect x="421" y="186" width="5" height="4" fill="#32cd32"/>
<rect x="431" y="175" width="1" height="39" fill="#32cd32"/>
<rect x="429" y="189" width="5" height="16" fill="#32cd32"/>
<rect x="439" y="203" width="1" height="20" fill="#32cd32"/>
<rect x="437" y="204" width="5" height="17" fill="#32cd32"/>
<rect x="447" y="201" width="1" height="30" fill="#ff0000"/>
<rect x="445" y="220" width="5" height="1" fill="#ff0000"/>
<rect x="455" y="200" width="1" height="26" fill="#ff0000"/>
<rect x="453" y="218" width="5" height="3" fill="#ff0000"/>
<rect x="454" y="219" width="3" height="1" fill="#ff4500"/>
<rect x="463" y="216" width="1" height="11" fill="#ff0000"/>
<rect x="461" y="216" width="5" height="3" fill="#ff0000"/>
<rect x="462" y="217" width="3" height="1" fill="#ff4500"/>
<rect x="471" y="211" width="1" height="19" fill="#32cd32"/>
<rect x="469" y="216" width="5" height="1" fill="#32cd32"/>
<rect x="479" y="204" width="1" height="19" fill="#ff0000"/>
<rect x="477" y="213" width="5" height="4" fill="#ff0000"/>
<rect x="478" y="214" width="3" height="2" fill="#ff4500"/>
<rect x="487" y="210" width="1" height="35" fill="#32cd32"/>
<rect x="485" y="213" width="5" height="15" fill="#32cd32"/>
<rect x="495" y="207" width="1" height="63" fill="#32cd32"/>
<rect x="493" y="227" width="5" height="19" fill="#32cd32"/>
<rect x="503" y="211" width="1" height="36" fill="#ff0000"/>
<rect x="501" y="232" width="5" height="14" fill="#ff0000"/>
<rect x="502" y="233" width="3" height="12" fill="#ff4500"/>
<rect x="511" y="217" width="1" height="17" fill="#ff0000"/>
<rect x="509" y="221" width="5" height="12" fill="#ff0000"/>
<rect x="510" y="222" width="3" height="10" fill="#ff4500"/>
<rect x="519" y="203" width="1" height="27" fill="#ff0000"/>
<rect x="517" y="219" width="5" height="11" fill="#ff0000"/>
<rect x="518" y="220" width="3" height="9" fill="#ff4500"/>
<rect x="527" y="186" width="1" height="42" fill="#ff0000"/>
<rect x="525" y="192" width="5" height="28" fill="#ff0000"/>
<rect x="526" y="193" width="3" height="26" fill="#ff4500"/>
<rect x="535" y="178" width="1" height="18" fill="#ff0000"/>
<rect x="533" y="188" width="5" height="5" fill="#ff0000"/>
<rect x="534" y="189" width="3" height="3" fill="#ff4500"/>
<rect x="543" y="155" width="1" height="38" fill="#ff0000"/>
<rect x="541" y="159" width="5" height="30" fill="#ff0000"/>
<rect x="542" y="160" width="3" height="28" fill="#ff4500"/>
<rect x="551" y="130" width="1" height="39" fill="#32cd32"/>
<rect x="549" y="159" width="5" height="5" fill="#32cd32"/>
<rect x="559" y="162" width="1" height="7" fill="#32cd32"/>
<rect x="557" y="163" width="5" height="4" fill="#32cd32"/>
<rect x="567" y="138" width="1" height="31" fill="#ff0000"/>
<rect x="565" y="140" width="5" height="23" fill="#ff0000"/>
<rect x="566" y="141" width="3" height="21" fill="#ff4500"/>
<rect x="575" y="133" width="1" height="41" fill="#32cd32"/>
<rect x="573" y="140" width="5" height="23" fill="#32cd32"/>
<rect x="583" y="158" width="1" height="29" fill="#32cd32"/>
<rect x="581" y="162" width="5" height="24" fill="#32cd32"/>
<rect x="591" y="181" width="1" height="18" fill="#32cd32"/>
<rect x="589" y="185" width="5" height="2" fill="#32cd32"/>
<rect x="599" y="180" width="1" height="31" fill="#32cd32"/>
<rect x="597" y="186" width="5" height="14" fill="#32cd32"/>
<rect x="607" y="194" width="1" height="9" fill="#32cd32"/>
<rect x="605" y="200" width="5" height="1" fill="#32cd32"/>
<rect x="615" y="200" width="1" height="20" fill="#32cd32"/>
<rect x="613" y="205" width="5" height="11" fill="#32cd32"/>
<rect x="623" y="203" width="1" height="26" fill="#32cd32"/>
<rect x="621" y="215" width="5" height="2" fill="#32cd32"/>
<rect x="631" y="210" width="1" height="31" fill="#32cd32"/>
<rect x="629" y="216" width="5" height="19" fill="#32cd32"/>
<rect x="639" y="233" width="1" height="60" fill="#32cd32"/>
<rect x="637" y="235" width="5" height="37" fill="#32cd32"/>
<rect x="647" y="238" width="1" height="40" fill="#ff0000"/>
<rect x="645" y="260" width="5" height="12" fill="#ff0000"/>
<rect x="646" y="261" width="3" height="10" fill="#ff4500"/>
<rect x="655" y="249" width="1" height="18" fill="#ff0000"/>
<rect x="653" y="257" width="5" height="4" fill="#ff0000"/>
<rect x="654" y="258" width="3" height="2" fill="#ff4500"/>
<rect x="663" y="253" width="1" height="24" fill="#32cd32"/>
<rect x="661" y="261" width="5" height="14" fill="#32cd32"/>
<rect x="671" y="251" width="1" height="31" fill="#ff0000"/>
<rect x="669" y="259" width="5" height="16" fill="#ff0000"/>
<rect x="670" y="260" width="3" height="14" fill="#ff4500"/>
<rect x="679" y="241" width="1" height="44" fill="#ff0000"/>
<rect x="677" y="255" width="5" height="5" fill="#ff0000"/>
<rect x="678" y="256" width="3" height="3" fill="#ff4500"/>
<rect x="687" y="236" width="1" height="30" fill="#ff0000"/>
<rect x="685" y="251" width="5" height="5" fill="#ff0000"/>
<rect x="686" y="252" width="3" height="3" fill="#ff4500"/>
<rect x="695" y="235" width="1" height="21" fill="#ff0000"/>
<rect x="693" y="244" width="5" height="8" fill="#ff0000"/>
<rect x="694" y="245" width="3" height="6" fill="#ff4500"/>
<rect x="703" y="243" width="1" height="9" fill="#32cd32"/>
<rect x="701" y="244" width="5" height="2" fill="#32cd32"/>
<rect x="711" y="225" width="1" height="42" fill="#ff0000"/>
<rect x="709" y="226" width="5" height="26" fill="#ff0000"/>
<rect x="710" y="227" width="3" height="24" fill="#ff4500"/>
<rect x="719" y="217" width="1" height="13" fill="#32cd32"/>
<rect x="717" y="226" width="5" height="2" fill="#32cd32"/>
<rect x="727" y="225" width="1" height="26" fill="#32cd32"/>
<rect x="725" y="227" width="5" height="12" fill="#32cd32"/>
<rect x="735" y="215" width="1" height="27" fill="#ff0000"/>
<rect x="733" y="215" width="5" height="24" fill="#ff0000"/>
<rect x="734" y="216" width="3" height="22" fill="#ff4500"/>
<rect x="743" y="209" width="1" height="16" fill="#ff0000"/>
<rect x="741" y="215" width="5" height="1" fill="#ff0000"/>
<rect x="751" y="213" width="1" height="6" fill="#32cd32"/>
<rect x="749" y="215" width="5" height="4" fill="#32cd32"/>
<rect x="759" y="215" width="1" height="19" fill="#32cd32"/>
<rect x="757" y="218" width="5" height="4" fill="#32cd32"/>
<rect x="767" y="211" width="1" height="21" fill="#ff0000"/>
<rect x="765" y="218" width="5" height="4" fill="#ff0000"/>
<rect x="766" y="219" width="3" height="2" fill="#ff4500"/>
<rect x="775" y="194" width="1" height="31" fill="#ff0000"/>
<rect x="773" y="204" width="5" height="15" fill="#ff0000"/>
<rect x="774" y="205" width="3" height="13" fill="#ff4500"/>
<rect x="783" y="185" width="1" height="26" fill="#ff0000"/>
<rect x="781" y="198" width="5" height="7" fill="#ff0000"/>
<rect x="782" y="199" width="3" height="5" fill="#ff4500"/>
<rect x="791" y="191" width="1" height="29" fill="#32cd32"/>
<rect x="789" y="198" width="5" height="8" fill="#32cd32"/>
<rect x="799" y="197" width="1" height="12" fill="#ff0000"/>
<rect x="797" y="197" width="5" height="9" fill="#ff0000"/>
<rect x="798" y="198" width="3" height="7" fill="#ff4500"/>
<rect x="807" y="189" width="1" height="23" fill="#ff0000"/>
<rect x="805" y="189" width="5" height="13" fill="#ff0000"/>
<rect x="806" y="190" width="3" height="11" fill="#ff4500"/>
<rect x="815" y="168" width="1" height="28" fill="#ff0000"/>
<rect x="813" y="170" width="5" height="20" fill="#ff0000"/>
<rect x="814" y="171" width="3" height="18" fill="#ff4500"/>
<rect x="823" y="147" width="1" height="25" fill="#ff0000"/>
<rect x="821" y="147" width="5" height="25" fill="#ff0000"/>
<rect x="822" y="148" width="3" height="23" fill="#ff4500"/>
<rect x="831" y="108" width="1" height="45" fill="#ff0000"/>
<rect x="829" y="109" width="5" height="39" fill="#ff0000"/>
<rect x="830" y="110" width="3" height="37" fill="#ff4500"/>
<rect x="839" y="105" width="1" height="7" fill="#32cd32"/>
<rect x="837" y="109" width="5" height="2" fill="#32cd32"/>
<rect x="847" y="114" width="1" height="4" fill="#32cd32"/>
<rect x="845" y="114" width="5" height="3" fill="#32cd32"/>
<rect x="855" y="104" width="1" height="12" fill="#ff0000"/>
<rect x="853" y="108" width="5" height="8" fill="#ff0000"/>
<rect x="854" y="109" width="3" height="6" fill="#ff4500"/>
<rect x="863" y="55" width="1" height="57" fill="#ff0000"/>
<rect x="861" y="63" width="5" height="46" fill="#ff0000"/>
<rect x="862" y="64" width="3" height="44" fill="#ff4500"/>
<rect x="871" y="63" width="1" height="36" fill="#32cd32"/>
<rect x="869" y="63" width="5" height="25" fill="#32cd32"/>
<rect x="879" y="57" width="1" height="31" fill="#ff0000"/>
<rect x="877" y="77" width="5" height="11" fill="#ff0000"/>
<rect x="878" y="78" width="3" height="9" fill="#ff4500"/>
<rect x="887" y="50" width="1" height="39" fill="#32cd32"/>
<rect x="885" y="77" width="5" height="7" fill="#32cd32"/>
<rect x="895" y="81" width="1" height="7" fill="#32cd32"/>
<rect x="893" y="82" width="5" height="2" fill="#32cd32"/>
<rect x="903" y="65" width="1" height="23" fill="#ff0000"/>
<rect x="901" y="75" width="5" height="7" fill="#ff0000"/>
<rect x="902" y="76" width="3" height="5" fill="#ff4500"/>
<rect x="911" y="74" width="1" height="22" fill="#32cd32"/>
<rect x="909" y="75" width="5" height="2" fill="#32cd32"/>
<rect x="919" y="75" width="1" height="14" fill="#32cd32"/>
<rect x="917" y="76" width="5" height="7" fill="#32cd32"/>
</g>
<rect x="741" y="112" width="225" height="4" fill="#98c802"/>
<rect x="741" y="163" width="225" height="4" fill="#3490e4"/>
<rect x="6" y="470" width="3" height="8" fill="#c0c0c0"/>
<rect x="14" y="470" width="3" height="9" fill="#c0c0c0"/>
<rect x="22" y="470" width="3" height="10" fill="#c0c0c0"/>
<rect x="30" y="470" width="3" height="9" fill="#c0c0c0"/>
<rect x="38" y="470" width="3" height="11" fill="#c0c0c0"/>
<rect x="46" y="470" width="3" height="14" fill="#c0c0c0"/>
<rect x="54" y="470" width="3" height="14" fill="#c0c0c0"/>
<rect x="62" y="470" width="3" height="14" fill="#c0c0c0"/>
<rect x="70" y="470" width="3" height="17" fill="#c0c0c0"/>
<rect x="78" y="470" width="3" height="18" fill="#c0c0c0"/>
<rect x="86" y="470" width="3" height="19" fill="#c0c0c0"/>
<rect x="94" y="470" width="3" height="22" fill="#c0c0c0"/>
<rect x="102" y="470" width="3" height="20" fill="#c0c0c0"/>
<rect x="110" y="470" width="3" height="18" fill="#c0c0c0"/>
<rect x="118" y="470" width="3" height="18" fill="#c0c0c0"/>
<rect x="126" y="470" width="3" height="18" fill="#c0c0c0"/>
<rect x="134" y="470" width="3" height="19" fill="#c0c0c0"/>
<rect x="142" y="470" width="3" height="21" fill="#c0c0c0"/>
<rect x="150" y="470" width="3" height="24" fill="#c0c0c0"/>
<rect x="158" y="470" width="3" height="24" fill="#c0c0c0"/>
<rect x="166" y="470" width="3" height="23" fill="#c0c0c0"/>
<rect x="174" y="470" width="3" height="20" fill="#c0c0c0"/>
<rect x="182" y="470" width="3" height="20" fill="#c0c0c0"/>
<rect x="190" y="470" width="3" height="18" fill="#c0c0c0"/>
<rect x="198" y="470" width="3" height="13" fill="#c0c0c0"/>
<rect x="206" y="470" width="3" height="7" fill="#c0c0c0"/>
<rect x="214" y="470" width="3" height="2" fill="#c0c0c0"/>
<rect x="222" y="467" width="3" height="3" fill="#c0c0c0"/>
<rect x="230" y="462" width="3" height="8" fill="#c0c0c0"/>
<rect x="238" y="459" width="3" height="11" fill="#c0c0c0"/>
<rect x="246" y="457" width="3" height="13" fill="#c0c0c0"/>
<rect x="254" y="456" width="3" height="14" fill="#c0c0c0"/>
<rect x="262" y="457" width="3" height="13" fill="#c0c0c0"/>
<rect x="270" y="458" width="3" height="12" fill="#c0c0c0"/>
<rect x="278" y="459" width="3" height="11" fill="#c0c0c0"/>
<rect x="286" y="460" width="3" height="10" fill="#c0c0c0"/>
<rect x="294" y="457" width="3" height="13" fill="#c0c0c0"/>
<rect x="302" y="458" width="3" height="12" fill="#c0c0c0"/>
<rect x="310" y="458" width="3" height="12" fill="#c0c0c0"/>
<rect x="318" y="458" width="3" height="12" fill="#c0c0c0"/>
<rect x="326" y="458" width="3" height="12" fill="#c0c0c0"/>
<rect x="334" y="455" width="3" height="15" fill="#c0c0c0"/>
<rect x="342" y="453" width="3" height="17" fill="#c0c0c0"/>
<rect x="350" y="452" width="3" height="18" fill="#c0c0c0"/>
<rect x="358" y="451" width="3" height="19" fill="#c0c0c0"/>
<rect x="366" y="451" width="3" height="19" fill="#c0c0c0"/>
<rect x="374" y="449" width="3" height="21" fill="#c0c0c0"/>
<rect x="382" y="446" width="3" height="24" fill="#c0c0c0"/>
<rect x="390" y="444" width="3" height="26" fill="#c0c0c0"/>
<rect x="398" y="443" width="3" height="27" fill="#c0c0c0"/>
<rect x="406" y="442" width="3" height="28" fill="#c0c0c0"/>
<rect x="414" y="443" width="3" height="27" fill="#c0c0c0"/>
<rect x="422" y="444" width="3" height="26" fill="#c0c0c0"/>
<rect x="430" y="446" width="3" height="24" fill="#c0c0c0"/>
<rect x="438" y="451" width="3" height="19" fill="#c0c0c0"/>
<rect x="446" y="454" width="3" height="16" fill="#c0c0c0"/>
<rect x="454" y="456" width="3" height="14" fill="#c0c0c0"/>
<rect x="462" y="458" width="3" height="12" fill="#c0c0c0"/>
<rect x="470" y="460" width="3" height="10" fill="#c0c0c0"/>
<rect x="478" y="461" width="3" height="9" fill="#c0c0c0"/>
<rect x="486" y="463" width="3" height="7" fill="#c0c0c0"/>
<rect x="494" y="466" width="3" height="4" fill="#c0c0c0"/>
<rect x="502" y="467" width="3" height="3" fill="#c0c0c0"/>
<rect x="510" y="468" width="3" height="2" fill="#c0c0c0"/>
<rect x="518" y="468" width="3" height="2" fill="#c0c0c0"/>
<rect x="526" y="466" width="3" height="4" fill="#c0c0c0"/>
<rect x="534" y="464" width="3" height="6" fill="#c0c0c0"/>
<rect x="542" y="460" width="3" height="10" fill="#c0c0c0"/>
<rect x="550" y="458" width="3" height="12" fill="#c0c0c0"/>
<rect x="558" y="457" width="3" height="13" fill="#c0c0c0"/>
<rect x="566" y="454" width="3" height="16" fill="#c0c0c0"/>
<rect x="574" y="453" width="3" height="17" fill="#c0c0c0"/>
<rect x="582" y="455" width="3" height="15" fill="#c0c0c0"/>
<rect x="590" y="456" width="3" height="14" fill="#c0c0c0"/>
<rect x="598" y="458" width="3" height="12" fill="#c0c0c0"/>
<rect x="606" y="461" width="3" height="9" fill="#c0c0c0"/>
<rect x="614" y="463" width="3" height="7" fill="#c0c0c0"/>
<rect x="622" y="466" width="3" height="4" fill="#c0c0c0"/>
<rect x="630" y="469" width="3" height="1" fill="#c0c0c0"/>
<rect x="638" y="470" width="3" height="5" fill="#c0c0c0"/>
<rect x="646" y="470" width="3" height="9" fill="#c0c0c0"/>
<rect x="654" y="470" width="3" height="11" fill="#c0c0c0"/>
<rect x="662" y="470" width="3" height="14" fill="#c0c0c0"/>
<rect x="670" y="470" width="3" height="15" fill="#c0c0c0"/>
<rect x="678" y="470" width="3" height="15" fill="#c0c0c0"/>
<rect x="686" y="470" width="3" height="15" fill="#c0c0c0"/>
<rect x="694" y="470" width="3" height="14" fill="#c0c0c0"/>
<rect x="702" y="470" width="3" height="14" fill="#c0c0c0"/>
<rect x="710" y="470" width="3" height="11" fill="#c0c0c0"/>
<rect x="718" y="470" width="3" height="10" fill="#c0c0c0"/>
<rect x="726" y="470" width="3" height="9" fill="#c0c0c0"/>
<rect x="734" y="470" width="3" height="7" fill="#c0c0c0"/>
<rect x="742" y="470" width="3" height="5" fill="#c0c0c0"/>
<rect x="750" y="470" width="3" height="3" fill="#c0c0c0"/>
<rect x="758" y="470" width="3" height="3" fill="#c0c0c0"/>
<rect x="766" y="470" width="3" height="2" fill="#c0c0c0"/>
<rect x="774" y="469" width="3" height="1" fill="#c0c0c0"/>
<rect x="782" y="467" width="3" height="3" fill="#c0c0c0"/>
<rect x="790" y="466" width="3" height="4" fill="#c0c0c0"/>
<rect x="798" y="465" width="3" height="5" fill="#c0c0c0"/>
<rect x="806" y="463" width="3" height="7" fill="#c0c0c0"/>
<rect x="814" y="461" width="3" height="9" fill="#c0c0c0"/>
<rect x="822" y="457" width="3" height="13" fill="#c0c0c0"/>
<rect x="830" y="451" width="3" height="19" fill="#c0c0c0"/>
<rect x="838" y="447" width="3" height="23" fill="#c0c0c0"/>
<rect x="846" y="445" width="3" height="25" fill="#c0c0c0"/>
<rect x="854" y="442" width="3" height="28" fill="#c0c0c0"/>
<rect x="862" y="437" width="3" height="33" fill="#c0c0c0"/>
<rect x="870" y="436" width="3" height="34" fill="#c0c0c0"/>
<rect x="878" y="434" width="3" height="36" fill="#c0c0c0"/>
<rect x="886" y="434" width="3" height="36" fill="#c0c0c0"/>
<rect x="894" y="434" width="3" height="36" fill="#c0c0c0"/>
<rect x="902" y="433" width="3" height="37" fill="#c0c0c0"/>
<rect x="910" y="434" width="3" height="36" fill="#c0c0c0"/>
<rect x="918" y="435" width="3" height="35" fill="#c0c0c0"/>
<g clip-path="url(#cpAll)">
<path d="M6 481h11v1h-11zM17 480h12v1h-12zM29 479h7v1h-7zM36 478h9v1h-9zM45 479h15v1h-15zM60 480h6v1h-6zM66 481h8v1h-8zM74 482h11v1h-11zM85 483h8v1h-8zM93 484h4v1h-4zM97 485h5v1h-5zM102 486h16v1h-16zM118 487h17v1h-17zM135 488h11v1h-11zM146 489h14v1h-14zM160 490h42v1h-42zM202 489h4v1h-4zM206 488h4v1h-4zM210 487h3v1h-3zM213 486h4v1h-4zM217 485h2v1h-2zM219 484h3v1h-3zM222 483h3v1h-3zM225 482h2v1h-2zM227 481h3v1h-3zM230 480h2v1h-2zM232 479h2v1h-2zM234 478h2v1h-2zM236 477h2v1h-2zM238 476h2v1h-2zM240 475h2v1h-2zM242 474h2v1h-2zM244 473h2v1h-2zM246 472h2v1h-2zM248 471h3v1h-3zM251 470h3v1h-3zM254 469h2v1h-2zM256 468h2v1h-2zM258 467h2v1h-2zM260 466h2v1h-2zM262 465h3v1h-3zM265 464h2v1h-2zM267 463h2v1h-2zM269 462h4v1h-4zM273 461h6v1h-6zM279 460h5v1h-5zM284 459h6v1h-6zM290 458h59v1h-59zM349 457h6v1h-6zM355 456h7v1h-7zM362 455h8v1h-8zM370 454h7v1h-7zM377 453h7v1h-7zM384 452h5v1h-5zM389 451h5v1h-5zM394 450h5v1h-5zM399 449h6v1h-6zM405 448h6v1h-6zM411 447h10v1h-10zM421 446h15v1h-15zM436 445h13v1h-13zM449 446h6v1h-6zM455 447h4v1h-4zM459 448h4v1h-4zM463 449h4v1h-4zM467 450h4v1h-4zM471 451h4v1h-4zM475 452h4v1h-4zM479 453h4v1h-4zM483 454h4v1h-4zM487 455h4v1h-4zM491 456h4v1h-4zM495 457h4v1h-4zM499 458h4v1h-4zM503 459h4v1h-4zM507 460h4v1h-4zM511 461h4v1h-4zM515 462h4v1h-4zM519 463h6v1h-6zM525 464h7v1h-7zM532 465h19v1h-19zM551 464h11v1h-11zM562 463h5v1h-5zM567 462h5v1h-5zM572 461h5v1h-5zM577 460h6v1h-6zM583 459h5v1h-5zM588 458h6v1h-6zM594 457h28v1h-28zM622 458h9v1h-9zM631 459h4v1h-4zM635 460h3v1h-3zM638 461h3v1h-3zM641 462h3v1h-3zM644 463h2v1h-2zM646 464h3v1h-3zM649 465h3v1h-3zM652 466h3v1h-3zM655 467h2v1h-2zM657 468h3v1h-3zM660 469h2v1h-2zM662 470h3v1h-3zM665 471h3v1h-3zM668 472h2v1h-2zM670 473h3v1h-3zM673 474h2v1h-2zM675 475h3v1h-3zM678 476h4v1h-4zM682 477h4v1h-4zM686 478h4v1h-4zM690 479h4v1h-4zM694 480h4v1h-4zM698 481h4v1h-4zM702 482h29v1h-29zM731 481h8v1h-8zM739 480h8v1h-8zM747 479h7v1h-7zM754 478h5v1h-5zM759 477h5v1h-5zM764 476h5v1h-5zM769 475h6v1h-6zM775 474h6v1h-6zM781 473h5v1h-5zM786 472h6v1h-6zM792 471h6v1h-6zM798 470h5v1h-5zM803 469h6v1h-6zM809 468h6v1h-6zM815 467h6v1h-6zM821 466h5v1h-5zM826 465h3v1h-3zM829 464h3v1h-3zM832 463h4v1h-4zM836 462h3v1h-3zM839 461h2v1h-2zM841 460h3v1h-3zM844 459h2v1h-2zM846 458h3v1h-3zM849 457h2v1h-2zM851 456h3v1h-3zM854 455h2v1h-2zM856 454h3v1h-3zM859 453h2v1h-2zM861 452h3v1h-3zM864 451h2v1h-2zM866 450h3v1h-3zM869 449h3v1h-3zM872 448h2v1h-2zM874 447h3v1h-3zM877 446h2v1h-2zM879 445h3v1h-3zM882 444h3v1h-3zM885 443h3v1h-3zM888 442h3v1h-3zM891 441h2v1h-2zM893 440h3v1h-3zM896 439h4v1h-4zM900 438h6v1h-6zM906 437h5v1h-5zM911 436h5v1h-5zM916 435h3v1h-3z" fill="#ff0000"/>
<line x1="7" x2="1169" y1="525.5" y2="525.5" stroke="#c0c0c0" stroke-width="1" stroke-dasharray="3,3" stroke-dashoffset="-2"/>
<line x1="7" x2="1169" y1="558.5" y2="558.5" stroke="#c0c0c0" stroke-width="1" stroke-dasharray="3,3" stroke-dashoffset="-2"/>
<path d="M7 546h2v1h-2zM9 545h8v1h-8zM17 546h2v1h-2zM19 547h2v1h-2zM21 548h2v1h-2zM23 549h1v1h-1zM24 548h2v1h-2zM26 547h1v1h-1zM27 546h1v1h-1zM28 545h1v1h-1zM29 544h1v1h-1zM30 543h1v1h-1zM31 542h2v1h-2zM33 543h1v1h-1zM34 544h1v1h-1zM35 545h1v1h-1zM36 546h1v1h-1zM37 547h1v1h-1zM38 548h2v1h-2zM40 549h1v1h-1zM41 550h2v1h-2zM43 551h2v1h-2zM45 552h2v1h-2zM47 553h2v1h-2zM49 552h1v1h-1zM50 551h1v1h-1zM51 550h1v1h-1zM52 549h2v1h-2zM54 548h1v1h-1zM55 547h10v1h-10zM65 548h1v1h-1zM66 549h2v1h-2zM68 550h1v1h-1zM69 551h1v1h-1zM70 552h1v1h-1zM71 553h2v1h-2zM73 552h3v1h-3zM76 551h3v1h-3zM79 550h10v1h-10zM89 551h1v1h-1zM90 552h2v1h-2zM92 553h2v1h-2zM94 554h3v1h-3zM97 552h1v2h-1zM98 551h1v1h-1zM99 550h1v1h-1zM100 549h1v1h-1zM101 547h1v2h-1zM102 546h1v1h-1zM103 545h1v1h-1zM104 544h4v1h-4zM108 543h6v1h-6zM114 544h2v1h-2zM116 545h1v1h-1zM117 546h2v1h-2zM119 547h3v1h-3zM122 546h7v1h-7zM129 547h2v1h-2zM131 548h2v1h-2zM133 549h1v1h-1zM134 550h2v1h-2zM136 551h9v1h-9zM145 552h2v1h-2zM147 553h2v1h-2zM149 554h5v1h-5zM154 553h2v1h-2zM156 552h2v1h-2zM158 551h1v1h-1zM159 550h2v1h-2zM161 549h3v1h-3zM164 548h2v1h-2zM166 547h3v1h-3zM169 546h4v1h-4zM173 545h5v1h-5zM178 546h2v1h-2zM180 547h3v1h-3zM183 548h2v1h-2zM185 547h1v1h-1zM186 546h1v1h-1zM187 545h2v1h-2zM189 544h1v1h-1zM190 543h2v1h-2zM192 542h2v1h-2zM194 541h1v1h-1zM195 540h2v1h-2zM197 539h2v1h-2zM199 538h2v1h-2zM201 537h2v1h-2zM203 536h2v1h-2zM205 535h2v1h-2zM207 534h5v1h-5zM212 533h8v1h-8zM220 534h5v1h-5zM225 533h3v1h-3zM228 532h2v1h-2zM230 531h12v1h-12zM242 532h2v1h-2zM244 533h3v1h-3zM247 534h3v1h-3zM250 535h5v1h-5zM255 536h4v1h-4zM259 537h3v1h-3zM262 538h11v1h-11zM273 539h3v1h-3zM276 540h3v1h-3zM279 541h2v1h-2zM281 540h2v1h-2zM283 539h1v1h-1zM284 538h2v1h-2zM286 537h2v1h-2zM288 536h2v1h-2zM290 535h2v1h-2zM292 534h2v1h-2zM294 533h3v1h-3zM297 534h1v1h-1zM298 535h1v1h-1zM299 536h1v1h-1zM300 537h1v1h-1zM301 538h1v1h-1zM302 539h1v1h-1zM303 540h1v1h-1zM304 541h2v1h-2zM306 540h3v1h-3zM309 539h3v1h-3zM312 538h5v1h-5zM317 537h5v1h-5zM322 536h3v1h-3zM325 535h4v1h-4zM329 534h3v1h-3zM332 533h2v1h-2zM334 532h30v1h-30zM364 533h5v1h-5zM369 532h2v1h-2zM371 531h2v1h-2zM373 530h2v1h-2zM375 529h2v1h-2zM377 528h3v1h-3zM380 527h3v1h-3zM383 526h5v1h-5zM388 525h9v1h-9zM397 526h8v1h-8zM405 527h4v1h-4zM409 528h2v1h-2zM411 529h2v1h-2zM413 530h2v1h-2zM415 531h3v1h-3zM418 532h4v1h-4zM422 533h3v1h-3zM425 534h1v1h-1zM426 535h2v1h-2zM428 536h2v1h-2zM430 537h2v1h-2zM432 538h2v1h-2zM434 539h2v1h-2zM436 540h3v1h-3zM439 541h21v1h-21zM460 540h15v1h-15zM475 539h6v1h-6zM481 540h2v1h-2zM483 541h1v1h-1zM484 542h2v1h-2zM486 543h1v1h-1zM487 544h2v1h-2zM489 545h1v1h-1zM490 546h2v1h-2zM492 547h2v1h-2zM494 548h1v1h-1zM495 549h2v1h-2zM497 548h1v1h-1zM498 547h2v1h-2zM500 546h2v1h-2zM502 545h2v1h-2zM504 544h2v1h-2zM506 543h2v1h-2zM508 542h3v1h-3zM511 541h4v1h-4zM515 540h5v1h-5zM520 539h2v1h-2zM522 538h1v1h-1zM523 537h2v1h-2zM525 536h1v1h-1zM526 535h1v1h-1zM527 534h5v1h-5zM532 533h4v1h-4zM536 532h2v1h-2zM538 531h1v1h-1zM539 530h1v1h-1zM540 529h2v1h-2zM542 528h1v1h-1zM543 527h4v1h-4zM547 528h3v1h-3zM550 529h11v1h-11zM561 528h2v1h-2zM563 527h2v1h-2zM565 526h2v1h-2zM567 525h2v1h-2zM569 526h1v1h-1zM570 527h1v1h-1zM571 528h1v1h-1zM572 529h1v1h-1zM573 530h1v1h-1zM574 531h2v1h-2zM576 532h1v1h-1zM577 533h1v1h-1zM578 534h2v1h-2zM580 535h1v1h-1zM581 536h1v1h-1zM582 537h2v1h-2zM584 538h5v1h-5zM589 539h4v1h-4zM593 540h3v1h-3zM596 541h3v1h-3zM599 542h10v1h-10zM609 543h3v1h-3zM612 544h2v1h-2zM614 545h2v1h-2zM616 546h10v1h-10zM626 547h2v1h-2zM628 548h2v1h-2zM630 549h2v1h-2zM632 550h1v1h-1zM633 551h1v1h-1zM634 552h2v1h-2zM636 553h1v1h-1zM637 554h1v1h-1zM638 555h1v1h-1zM639 556h2v1h-2zM641 555h3v1h-3zM644 554h2v1h-2zM646 553h5v1h-5zM651 552h7v1h-7zM658 553h3v1h-3zM661 554h2v1h-2zM663 555h1v1h-1zM664 554h3v1h-3zM667 553h2v1h-2zM669 552h2v1h-2zM671 551h3v1h-3zM674 550h6v1h-6zM680 549h5v1h-5zM685 548h5v1h-5zM690 547h4v1h-4zM694 546h10v1h-10zM704 545h2v1h-2zM706 544h2v1h-2zM708 543h1v1h-1zM709 542h2v1h-2zM711 541h11v1h-11zM722 542h2v1h-2zM724 543h3v1h-3zM727 544h2v1h-2zM729 543h1v1h-1zM730 542h1v1h-1zM731 541h1v1h-1zM732 540h2v1h-2zM734 539h1v1h-1zM735 538h14v1h-14zM749 539h7v1h-7zM756 540h7v1h-7zM763 539h5v1h-5zM768 538h2v1h-2zM770 537h2v1h-2zM772 536h2v1h-2zM774 535h2v1h-2zM776 534h4v1h-4zM780 533h6v1h-6zM786 534h3v1h-3zM789 535h2v1h-2zM791 536h3v1h-3zM794 535h4v1h-4zM798 534h3v1h-3zM801 533h4v1h-4zM805 532h3v1h-3zM808 531h2v1h-2zM810 530h2v1h-2zM812 529h2v1h-2zM814 528h2v1h-2zM816 527h1v1h-1zM817 526h2v1h-2zM819 525h1v1h-1zM820 524h2v1h-2zM822 523h1v1h-1zM823 522h2v1h-2zM825 521h2v1h-2zM827 520h2v1h-2zM829 519h1v1h-1zM830 518h10v1h-10zM840 519h4v1h-4zM844 520h3v1h-3zM847 521h3v1h-3zM850 520h6v1h-6zM856 519h2v1h-2zM858 518h2v1h-2zM860 517h2v1h-2zM862 516h3v1h-3zM865 517h1v1h-1zM866 518h1v1h-1zM867 519h1v1h-1zM868 520h1v1h-1zM869 521h1v1h-1zM870 522h1v1h-1zM871 523h1v1h-1zM872 524h1v1h-1zM873 523h4v1h-4zM877 522h6v1h-6zM883 523h3v1h-3zM886 524h13v1h-13zM899 523h15v1h-15zM914 524h2v1h-2zM916 525h2v1h-2zM918 526h1v1h-1z" fill="#1e90ff"/>
</g>
<rect x="6" y="30" width="1" height="398" fill="#000"/>
<rect x="6" y="429" width="1" height="69" fill="#000"/>
<rect x="6" y="499" width="1" height="85" fill="#000"/>
<rect x="1169" y="30" width="1" height="398" fill="#000"/>
<rect x="1169" y="429" width="1" height="69" fill="#000"/>
<rect x="1169" y="499" width="1" height="85" fill="#000"/>
<rect x="6" y="30" width="1164" height="1" fill="#000"/>
<rect x="6" y="427" width="1164" height="1" fill="#000"/>
<rect x="6" y="429" width="1164" height="1" fill="#000"/>
<rect x="6" y="497" width="1164" height="1" fill="#000"/>
<rect x="6" y="499" width="1164" height="1" fill="#000"/>
<rect x="6" y="583" width="1164" height="1" fill="#000"/>
<rect x="1170" y="61" width="2" height="1" fill="#000"/>
<rect x="1170" y="94" width="2" height="1" fill="#000"/>
<rect x="1170" y="127" width="2" height="1" fill="#000"/>
<rect x="1170" y="160" width="2" height="1" fill="#000"/>
<rect x="1170" y="193" width="2" height="1" fill="#000"/>
<rect x="1170" y="226" width="2" height="1" fill="#000"/>
<rect x="1170" y="259" width="2" height="1" fill="#000"/>
<rect x="1170" y="292" width="2" height="1" fill="#000"/>
<rect x="1170" y="325" width="2" height="1" fill="#000"/>
<rect x="1170" y="358" width="2" height="1" fill="#000"/>
<rect x="1170" y="391" width="2" height="1" fill="#000"/>
<rect x="1170" y="424" width="2" height="1" fill="#000"/>
<rect x="1170" y="431" width="1" height="1" fill="#000"/>
<rect x="1170" y="470" width="1" height="1" fill="#000"/>
<rect x="1170" y="496" width="1" height="1" fill="#000"/>
<rect x="1170" y="501" width="1" height="1" fill="#000"/>
<rect x="1170" y="581" width="1" height="1" fill="#000"/>
<rect x="7" y="584" width="1" height="3" fill="#000"/>
<rect x="71" y="584" width="1" height="3" fill="#000"/>
<rect x="135" y="584" width="1" height="3" fill="#000"/>
<rect x="199" y="584" width="1" height="3" fill="#000"/>
<rect x="263" y="584" width="1" height="3" fill="#000"/>
<rect x="327" y="584" width="1" height="3" fill="#000"/>
<rect x="391" y="584" width="1" height="3" fill="#000"/>
<rect x="455" y="584" width="1" height="3" fill="#000"/>
<rect x="519" y="584" width="1" height="3" fill="#000"/>
<rect x="583" y="584" width="1" height="3" fill="#000"/>
<rect x="647" y="584" width="1" height="3" fill="#000"/>
<rect x="711" y="584" width="1" height="3" fill="#000"/>
<rect x="775" y="584" width="1" height="3" fill="#000"/>
<rect x="839" y="584" width="1" height="3" fill="#000"/>
<rect x="903" y="584" width="1" height="3" fill="#000"/>
</svg>
<!-- price box -->
<div style="position:absolute;left:1171px;top:77px;width:41px;height:11px;background:#000"></div>
<span class="t ax" style="left:1175px;top:78px;color:#fff;-webkit-text-stroke-color:#fff">1.01908</span>
<span class="t ax" style="left:1175px;top:57px;">1.02210</span>
<span class="t ax" style="left:1175px;top:90px;">1.01740</span>
<span class="t ax" style="left:1175px;top:123px;">1.01270</span>
<span class="t ax" style="left:1175px;top:156px;">1.00800</span>
<span class="t ax" style="left:1175px;top:189px;">1.00330</span>
<span class="t ax" style="left:1175px;top:222px;">0.99870</span>
<span class="t ax" style="left:1175px;top:255px;">0.99400</span>
<span class="t ax" style="left:1175px;top:288px;">0.98930</span>
<span class="t ax" style="left:1175px;top:321px;">0.98460</span>
<span class="t ax" style="left:1175px;top:354px;">0.97990</span>
<span class="t ax" style="left:1175px;top:387px;">0.97520</span>
<span class="t ax" style="left:1175px;top:420px;">0.97050</span>
<span class="t ax" style="left:1172.5px;top:432px;">0.005805</span>
<span class="t ax" style="left:1172.5px;top:466px;">0.00</span>
<span class="t ax" style="left:1172.5px;top:486px;">-0.003945</span>
<span class="t ax" style="left:1172.5px;top:502px;">100</span>
<span class="t ax" style="left:1171px;top:521px;">70</span>
<span class="t ax" style="left:1171px;top:554px;">30</span>
<span class="t ax" style="left:1172.5px;top:572px;">0</span>
<span class="t dt" style="left:6px;top:588px;">19 Dec 2018</span>
<span class="t dt" style="left:70px;top:588px;">28 Dec 2018</span>
<span class="t dt" style="left:134px;top:588px;">7 Jan 2019</span>
<span class="t dt" style="left:198px;top:588px;">16 Jan 2019</span>
<span class="t dt" style="left:262px;top:588px;">25 Jan 2019</span>
<span class="t dt" style="left:326px;top:588px;">4 Feb 2019</span>
<span class="t dt" style="left:390px;top:588px;">13 Feb 2019</span>
<span class="t dt" style="left:454px;top:588px;">22 Feb 2019</span>
<span class="t dt" style="left:518px;top:588px;">4 Mar 2019</span>
<span class="t dt" style="left:582px;top:588px;">13 Mar 2019</span>
<span class="t dt" style="left:646px;top:588px;">22 Mar 2019</span>
<span class="t dt" style="left:710px;top:588px;">1 Apr 2019</span>
<span class="t dt" style="left:774px;top:588px;">10 Apr 2019</span>
<span class="t dt" style="left:838px;top:588px;">19 Apr 2019</span>
<span class="t dt" style="left:902px;top:588px;">29 Apr 2019</span>
<span class="t hd" style="left:22px;top:34px;letter-spacing:-0.03px">USDCHF,Daily</span>
<span class="t hd" style="left:93px;top:34px;letter-spacing:-0.32px">1.02005 1.02012 1.01823 1.01908</span>
<span class="t hd" style="left:11px;top:434px;">MACD(12,26,9) 0.005133 0.005069</span>
<span class="t hd" style="left:11px;top:504px;">RSI(14) 69.0068</span>
<!-- trade panel -->
<svg style="position:absolute;left:10px;top:37px" width="7" height="4" shape-rendering="crispEdges"><rect x="3" y="0" width="1" height="1"/><rect x="2" y="1" width="3" height="1"/><rect x="1" y="2" width="5" height="1"/><rect x="0" y="3" width="7" height="1"/></svg>
<div id="tp" style="position:absolute;left:10px;top:50px;width:219px;height:64px;">
 <div class="rp" style="left:0;top:0;width:52px;height:25px;background:linear-gradient(#fa5050,#de3030);border-color:#c40000"></div>
 <div class="rp" style="left:167px;top:0;width:52px;height:25px;background:linear-gradient(#fa5050,#de3030);border-color:#c40000"></div>
 <div class="rp" style="left:0;top:24px;width:109px;height:40px;background:linear-gradient(#de3030,#ae0000);border-color:#b40000 #b00000 #9c0000 #b00000"></div>
 <div class="rp" style="left:111px;top:24px;width:108px;height:40px;background:linear-gradient(#de3030,#ae0000);border-color:#b40000 #b00000 #9c0000 #b00000"></div>
 <div style="position:absolute;left:1px;top:23px;width:50px;height:2px;background:#de3030"></div>
 <div style="position:absolute;left:168px;top:23px;width:50px;height:2px;background:#de3030"></div>
 <div style="position:absolute;left:4px;top:23px;width:44px;height:1px;background:#8c0000"></div>
 <div style="position:absolute;left:4px;top:24px;width:44px;height:1px;background:#f97878"></div>
 <div style="position:absolute;left:171px;top:23px;width:44px;height:1px;background:#8c0000"></div>
 <div style="position:absolute;left:171px;top:24px;width:44px;height:1px;background:#f97878"></div>
 <div style="position:absolute;left:54px;top:0px;width:111px;height:22px;border:1px solid #a2a6b2;background:#fff;box-sizing:border-box"></div>
 <div style="position:absolute;left:56px;top:2px;width:18px;height:6px;background:linear-gradient(#f3f3f3,#ebebeb)"></div>
 <div style="position:absolute;left:56px;top:8px;width:18px;height:12px;background:linear-gradient(#dedede,#cfcfcf)"></div>
 <div style="position:absolute;left:75px;top:1px;width:1px;height:20px;background:#a2a6b2"></div>
 <div style="position:absolute;left:145px;top:2px;width:18px;height:6px;background:linear-gradient(#f3f3f3,#ebebeb)"></div>
 <div style="position:absolute;left:145px;top:8px;width:18px;height:12px;background:linear-gradient(#dedede,#cfcfcf)"></div>
 <div style="position:absolute;left:143px;top:1px;width:1px;height:20px;background:#a2a6b2"></div>
 <svg style="position:absolute;left:62px;top:9px" width="5" height="3" shape-rendering="crispEdges"><rect x="0" y="0" width="5" height="1" fill="#5470d0"/><rect x="1" y="1" width="3" height="1" fill="#4058b8"/><rect x="2" y="2" width="1" height="1" fill="#303880"/></svg>
 <svg style="position:absolute;left:151px;top:9px" width="5" height="3" shape-rendering="crispEdges"><rect x="2" y="0" width="1" height="1" fill="#303880"/><rect x="1" y="1" width="3" height="1" fill="#4058b8"/><rect x="0" y="2" width="5" height="1" fill="#5470d0"/></svg>
 <span class="t" style="left:116px;top:5px;font-size:12px;line-height:12px;">5.00</span>
 <span class="t" style="left:12px;top:5px;font-size:12.4px;line-height:14px;color:#fff;transform-origin:0 0;transform:scaleX(0.9)">SELL</span>
 <span class="t" style="left:180px;top:5px;font-size:12.4px;line-height:14px;color:#fff;transform-origin:0 0;transform:scaleX(0.9)">BUY</span>
 <span class="t" style="left:20px;top:45px;font-size:12px;line-height:12px;color:#fff;font-weight:bold">1.01</span>
 <span class="t" style="left:130px;top:45px;font-size:12px;line-height:12px;color:#fff;font-weight:bold">1.01</span>
 <svg style="position:absolute;left:0;top:0" width="219" height="64" viewBox="0 0 219 64"><defs><mask id="thin" maskUnits="userSpaceOnUse" x="0" y="0" width="219" height="64"><g font-family="Liberation Sans, sans-serif" font-size="33.8" fill="#fff" stroke="#000" stroke-width="0.5" stroke-linejoin="round"><text x="46.6" y="54.5">90</text><text x="157.6" y="54.5">94</text></g></mask></defs><rect x="0" y="0" width="219" height="64" fill="#fff" mask="url(#thin)"/></svg>
 <span class="t" style="left:88px;top:30px;font-size:11px;line-height:11px;color:#fff;font-weight:bold">8</span>
 <span class="t" style="left:199px;top:30px;font-size:11px;line-height:11px;color:#fff;font-weight:bold">4</span>
</div>
<!-- tab bar -->
<div style="position:absolute;left:0;top:604px;width:1213px;height:28px;background:#f0f0f0"></div>
<div style="position:absolute;left:2px;top:604px;width:1211px;height:1px;background:#e3e3e3"></div>
<div style="position:absolute;left:2px;top:605px;width:1211px;height:1px;background:#fff"></div>
<div style="position:absolute;left:2px;top:606px;width:1211px;height:1px;background:#000"></div>
<div style="position:absolute;left:4px;top:607px;width:1209px;height:1px;background:#fafafa"></div>
<div style="position:absolute;left:2px;top:607px;width:1px;height:18px;background:#a0a0a0"></div>
<div style="position:absolute;left:3px;top:607px;width:1px;height:18px;background:#696969"></div>
<div style="position:absolute;left:0px;top:625px;width:3px;height:1px;background:#a0a0a0"></div>
<div style="position:absolute;left:3px;top:625px;width:1px;height:1px;background:#696969"></div>
<div style="position:absolute;left:0px;top:626px;width:1213px;height:4px;background:linear-gradient(#f3f3f3,#ffffff 45%)"></div>
<div style="position:absolute;left:0px;top:630px;width:1213px;height:1px;background:#a6a6a6"></div>
<div style="position:absolute;left:0px;top:631px;width:1213px;height:1px;background:#e8e8e8"></div>
<div style="position:absolute;left:216px;top:606px;width:100px;height:19px;background:#fff;border:1px solid #000;border-top:none;box-sizing:border-box"></div>
<div style="position:absolute;left:316px;top:608px;width:1px;height:17px;background:#d0d0d0"></div>
<div style="position:absolute;left:217px;top:625px;width:100px;height:1px;background:#d0d0d0"></div>
<span class="t tab" style="left:20px;top:610px">EURUSD,Daily</span>
<span class="t tab" style="left:123px;top:610px">AUDUSD,Daily</span>
<span class="t tab act" style="left:226px;top:610px">USDCHF,Daily</span>
<span class="t tab" style="left:327px;top:610px">USDCAD,Daily</span>
<span class="t tab" style="left:430px;top:610px">USDCNH,Daily</span>
<span class="t tab" style="left:535px;top:610px">XAUUSD,H4</span>
<span class="t tab" style="left:626px;top:610px">DJ30,H4</span>
<span class="t tab" style="left:696px;top:610px">USDOil,H1</span>
<span class="t tab" style="left:778px;top:610px">USDCHF,H1</span>
<div class="sep" style="left:112px"></div>
<div class="sep" style="left:420px"></div>
<div class="sep" style="left:524px"></div>
<div class="sep" style="left:616px"></div>
<div class="sep" style="left:684px"></div>
<div class="sep" style="left:768px"></div>
<div class="sep" style="left:856px"></div>
<svg style="position:absolute;left:1184px;top:611px" width="26" height="8"><path d="M4 0 L4 7 L0.5 3.5Z" fill="#909090"/><path d="M20 0 L20 7 L23.5 3.5Z" fill="#909090"/></svg>
</body></html>
